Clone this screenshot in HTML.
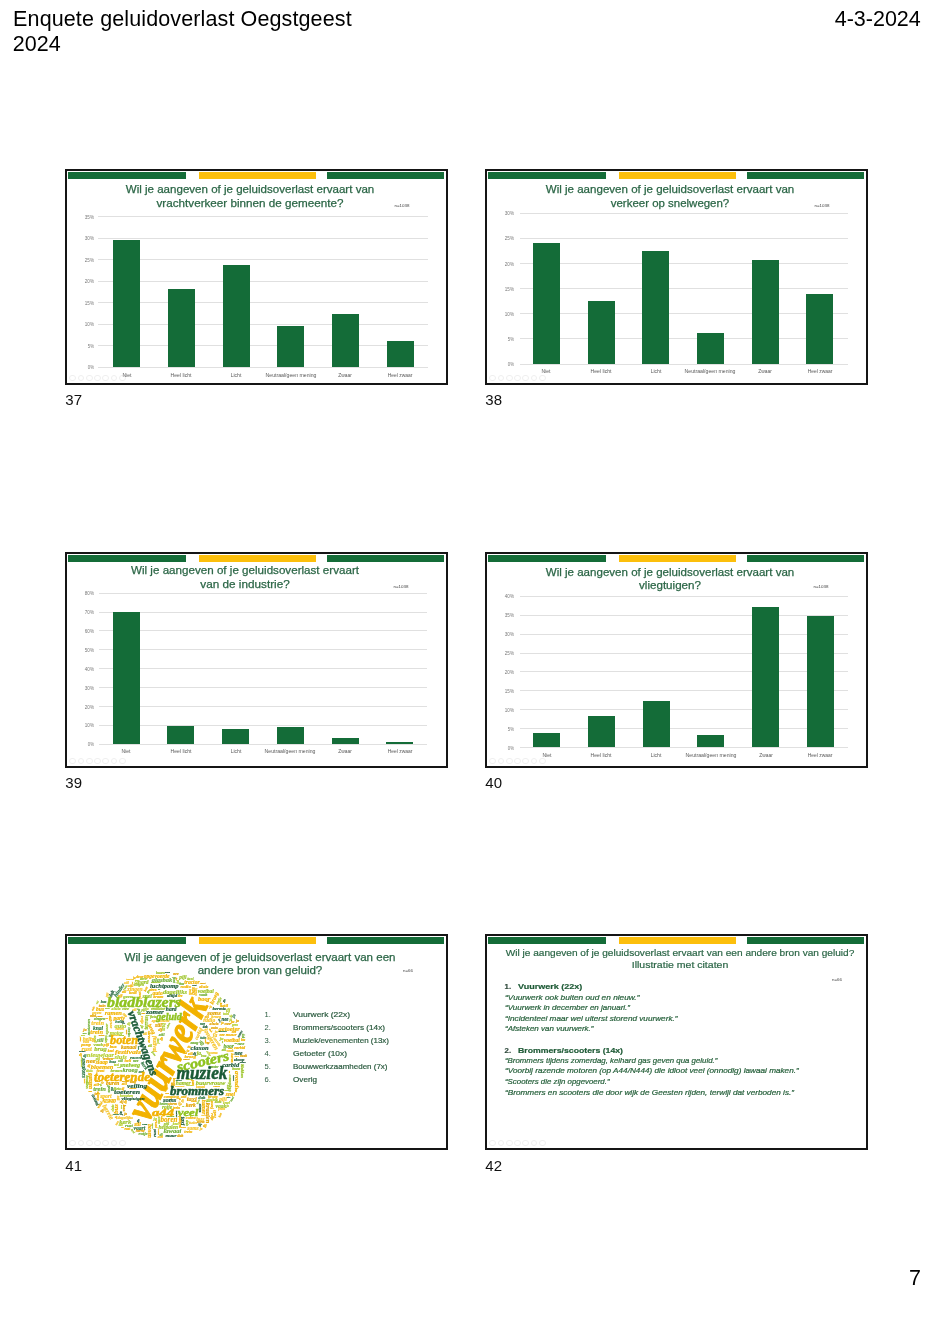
<!DOCTYPE html>
<html><head><meta charset="utf-8"><title>Enquete geluidoverlast Oegstgeest 2024</title><style>
html,body{margin:0;padding:0;background:#fff}
body{width:933px;height:1320px;position:relative;overflow:hidden;will-change:transform;font-family:"Liberation Sans",Arial,sans-serif}
.t{position:absolute;line-height:0;white-space:pre}
.tt{-webkit-text-stroke:0.25px currentColor}
.tq{-webkit-text-stroke:0.2px currentColor}
.tb{-webkit-text-stroke:0.5px currentColor}
.cl{position:absolute;left:0;top:0;width:383px;height:216px}
.cl .t{-webkit-text-stroke:0.18px currentColor}
.cl .tb{-webkit-text-stroke:0.5px currentColor}
.cl .tv{-webkit-text-stroke:1.1px currentColor}
.r{position:absolute}
.s{position:absolute;width:383px;height:216px}
</style></head><body>
<div class="t" style="left:13.10px;top:18.75px;font-size:21.5px;color:#000;letter-spacing:0.12px;">Enquete geluidoverlast Oegstgeest</div>
<div class="t" style="left:12.80px;top:44.45px;font-size:21.5px;color:#000;">2024</div>
<div class="t" style="left:920.80px;top:18.75px;font-size:21.5px;color:#000;transform:translateX(-100%) scaleX(1.0);transform-origin:100% 0;">4-3-2024</div>
<div class="t" style="left:921.00px;top:1278.15px;font-size:21.5px;color:#000;transform:translateX(-100%) scaleX(1.0);transform-origin:100% 0;">7</div>
<div class="t" style="left:65.30px;top:400.40px;font-size:15px;color:#111;">37</div>
<div class="t" style="left:485.30px;top:400.40px;font-size:15px;color:#111;">38</div>
<div class="t" style="left:65.30px;top:783.40px;font-size:15px;color:#111;">39</div>
<div class="t" style="left:485.30px;top:783.40px;font-size:15px;color:#111;">40</div>
<div class="t" style="left:65.30px;top:1166.40px;font-size:15px;color:#111;">41</div>
<div class="t" style="left:485.30px;top:1166.40px;font-size:15px;color:#111;">42</div>
<div class="s" style="left:65px;top:169px"><div class="r" style="left:0;top:0;width:383px;height:216px;box-sizing:border-box;border:2px solid #151515;background:#fff"></div><div class="r" style="left:3.00px;top:3.20px;width:118.00px;height:6.60px;background:#146c38;"></div><div class="r" style="left:133.50px;top:3.20px;width:117.50px;height:6.60px;background:#fcbf0c;"></div><div class="r" style="left:261.50px;top:3.20px;width:117.50px;height:6.60px;background:#146c38;"></div><div class="r" style="left:4.2px;top:205.6px;width:4.8px;height:4.8px;border:0.7px solid #efefef;border-radius:50%"></div><div class="r" style="left:12.5px;top:205.6px;width:4.8px;height:4.8px;border:0.7px solid #efefef;border-radius:50%"></div><div class="r" style="left:20.8px;top:205.6px;width:4.8px;height:4.8px;border:0.7px solid #efefef;border-radius:50%"></div><div class="r" style="left:29.1px;top:205.6px;width:4.8px;height:4.8px;border:0.7px solid #efefef;border-radius:50%"></div><div class="r" style="left:37.4px;top:205.6px;width:4.8px;height:4.8px;border:0.7px solid #efefef;border-radius:50%"></div><div class="r" style="left:45.7px;top:205.6px;width:4.8px;height:4.8px;border:0.7px solid #efefef;border-radius:50%"></div><div class="r" style="left:54.0px;top:205.6px;width:4.8px;height:4.8px;border:0.7px solid #efefef;border-radius:50%"></div><div class="t tt" style="left:185.40px;top:20.28px;font-size:11.3px;color:#2b6646;transform:translateX(-50%) scaleX(1.0226);transform-origin:50% 0;">Wil je aangeven of je geluidsoverlast ervaart van</div><div class="t tt" style="left:185.40px;top:33.78px;font-size:11.3px;color:#2b6646;transform:translateX(-50%) scaleX(1.0339);transform-origin:50% 0;">vrachtverkeer binnen de gemeente?</div><div class="t" style="left:336.50px;top:36.94px;font-size:4.2px;color:#444;transform:translateX(-50%) scaleX(1.0643);transform-origin:50% 0;">n=1038</div><div class="r" style="left:33.30px;top:197.80px;width:329.40px;height:0.80px;background:#e0e0e0;"></div><div class="t" style="left:29.20px;top:199.31px;font-size:4.6px;color:#7a7a7a;transform:translateX(-100%) scaleX(0.9336);transform-origin:100% 0;">0%</div><div class="r" style="left:33.30px;top:176.30px;width:329.40px;height:0.80px;background:#e0e0e0;"></div><div class="t" style="left:29.20px;top:177.81px;font-size:4.6px;color:#7a7a7a;transform:translateX(-100%) scaleX(0.9336);transform-origin:100% 0;">5%</div><div class="r" style="left:33.30px;top:154.80px;width:329.40px;height:0.80px;background:#e0e0e0;"></div><div class="t" style="left:29.20px;top:156.31px;font-size:4.6px;color:#7a7a7a;transform:translateX(-100%) scaleX(0.9997);transform-origin:100% 0;">10%</div><div class="r" style="left:33.30px;top:133.30px;width:329.40px;height:0.80px;background:#e0e0e0;"></div><div class="t" style="left:29.20px;top:134.81px;font-size:4.6px;color:#7a7a7a;transform:translateX(-100%) scaleX(0.9997);transform-origin:100% 0;">15%</div><div class="r" style="left:33.30px;top:111.80px;width:329.40px;height:0.80px;background:#e0e0e0;"></div><div class="t" style="left:29.20px;top:113.31px;font-size:4.6px;color:#7a7a7a;transform:translateX(-100%) scaleX(0.9997);transform-origin:100% 0;">20%</div><div class="r" style="left:33.30px;top:90.30px;width:329.40px;height:0.80px;background:#e0e0e0;"></div><div class="t" style="left:29.20px;top:91.81px;font-size:4.6px;color:#7a7a7a;transform:translateX(-100%) scaleX(0.9997);transform-origin:100% 0;">25%</div><div class="r" style="left:33.30px;top:68.80px;width:329.40px;height:0.80px;background:#e0e0e0;"></div><div class="t" style="left:29.20px;top:70.31px;font-size:4.6px;color:#7a7a7a;transform:translateX(-100%) scaleX(0.9997);transform-origin:100% 0;">30%</div><div class="r" style="left:33.30px;top:47.30px;width:329.40px;height:0.80px;background:#e0e0e0;"></div><div class="t" style="left:29.20px;top:48.81px;font-size:4.6px;color:#7a7a7a;transform:translateX(-100%) scaleX(0.9997);transform-origin:100% 0;">35%</div><div class="r" style="left:48.10px;top:71.35px;width:27.00px;height:126.85px;background:#146c38;"></div><div class="t" style="left:61.60px;top:207.01px;font-size:4.6px;color:#5a5a5a;transform:translateX(-50%) scaleX(1.1013);transform-origin:50% 0;">Niet</div><div class="r" style="left:102.80px;top:120.37px;width:27.00px;height:77.83px;background:#146c38;"></div><div class="t" style="left:116.30px;top:207.01px;font-size:4.6px;color:#5a5a5a;transform:translateX(-50%) scaleX(1.1107);transform-origin:50% 0;">Heel licht</div><div class="r" style="left:157.50px;top:96.29px;width:27.00px;height:101.91px;background:#146c38;"></div><div class="t" style="left:171.00px;top:207.01px;font-size:4.6px;color:#5a5a5a;transform:translateX(-50%) scaleX(1.101);transform-origin:50% 0;">Licht</div><div class="r" style="left:212.20px;top:156.92px;width:27.00px;height:41.28px;background:#146c38;"></div><div class="t" style="left:225.70px;top:207.01px;font-size:4.6px;color:#5a5a5a;transform:translateX(-50%) scaleX(1.1282);transform-origin:50% 0;">Neutraal/geen mening</div><div class="r" style="left:266.90px;top:145.31px;width:27.00px;height:52.89px;background:#146c38;"></div><div class="t" style="left:280.40px;top:207.01px;font-size:4.6px;color:#5a5a5a;transform:translateX(-50%) scaleX(1.0575);transform-origin:50% 0;">Zwaar</div><div class="r" style="left:321.60px;top:171.54px;width:27.00px;height:26.66px;background:#146c38;"></div><div class="t" style="left:335.10px;top:207.01px;font-size:4.6px;color:#5a5a5a;transform:translateX(-50%) scaleX(1.0746);transform-origin:50% 0;">Heel zwaar</div></div>
<div class="s" style="left:485px;top:169px"><div class="r" style="left:0;top:0;width:383px;height:216px;box-sizing:border-box;border:2px solid #151515;background:#fff"></div><div class="r" style="left:3.00px;top:3.20px;width:118.00px;height:6.60px;background:#146c38;"></div><div class="r" style="left:133.50px;top:3.20px;width:117.50px;height:6.60px;background:#fcbf0c;"></div><div class="r" style="left:261.50px;top:3.20px;width:117.50px;height:6.60px;background:#146c38;"></div><div class="r" style="left:4.2px;top:205.6px;width:4.8px;height:4.8px;border:0.7px solid #efefef;border-radius:50%"></div><div class="r" style="left:12.5px;top:205.6px;width:4.8px;height:4.8px;border:0.7px solid #efefef;border-radius:50%"></div><div class="r" style="left:20.8px;top:205.6px;width:4.8px;height:4.8px;border:0.7px solid #efefef;border-radius:50%"></div><div class="r" style="left:29.1px;top:205.6px;width:4.8px;height:4.8px;border:0.7px solid #efefef;border-radius:50%"></div><div class="r" style="left:37.4px;top:205.6px;width:4.8px;height:4.8px;border:0.7px solid #efefef;border-radius:50%"></div><div class="r" style="left:45.7px;top:205.6px;width:4.8px;height:4.8px;border:0.7px solid #efefef;border-radius:50%"></div><div class="r" style="left:54.0px;top:205.6px;width:4.8px;height:4.8px;border:0.7px solid #efefef;border-radius:50%"></div><div class="t tt" style="left:185.20px;top:20.28px;font-size:11.3px;color:#2b6646;transform:translateX(-50%) scaleX(1.0226);transform-origin:50% 0;">Wil je aangeven of je geluidsoverlast ervaart van</div><div class="t tt" style="left:185.20px;top:33.78px;font-size:11.3px;color:#2b6646;transform:translateX(-50%) scaleX(1.0144);transform-origin:50% 0;">verkeer op snelwegen?</div><div class="t" style="left:336.50px;top:36.94px;font-size:4.2px;color:#444;transform:translateX(-50%) scaleX(1.0643);transform-origin:50% 0;">n=1038</div><div class="r" style="left:34.60px;top:194.50px;width:328.30px;height:0.80px;background:#e0e0e0;"></div><div class="t" style="left:29.20px;top:196.01px;font-size:4.6px;color:#7a7a7a;transform:translateX(-100%) scaleX(0.9336);transform-origin:100% 0;">0%</div><div class="r" style="left:34.60px;top:169.38px;width:328.30px;height:0.80px;background:#e0e0e0;"></div><div class="t" style="left:29.20px;top:170.89px;font-size:4.6px;color:#7a7a7a;transform:translateX(-100%) scaleX(0.9336);transform-origin:100% 0;">5%</div><div class="r" style="left:34.60px;top:144.27px;width:328.30px;height:0.80px;background:#e0e0e0;"></div><div class="t" style="left:29.20px;top:145.77px;font-size:4.6px;color:#7a7a7a;transform:translateX(-100%) scaleX(0.9997);transform-origin:100% 0;">10%</div><div class="r" style="left:34.60px;top:119.15px;width:328.30px;height:0.80px;background:#e0e0e0;"></div><div class="t" style="left:29.20px;top:120.66px;font-size:4.6px;color:#7a7a7a;transform:translateX(-100%) scaleX(0.9997);transform-origin:100% 0;">15%</div><div class="r" style="left:34.60px;top:94.03px;width:328.30px;height:0.80px;background:#e0e0e0;"></div><div class="t" style="left:29.20px;top:95.54px;font-size:4.6px;color:#7a7a7a;transform:translateX(-100%) scaleX(0.9997);transform-origin:100% 0;">20%</div><div class="r" style="left:34.60px;top:68.92px;width:328.30px;height:0.80px;background:#e0e0e0;"></div><div class="t" style="left:29.20px;top:70.42px;font-size:4.6px;color:#7a7a7a;transform:translateX(-100%) scaleX(0.9997);transform-origin:100% 0;">25%</div><div class="r" style="left:34.60px;top:43.80px;width:328.30px;height:0.80px;background:#e0e0e0;"></div><div class="t" style="left:29.20px;top:45.31px;font-size:4.6px;color:#7a7a7a;transform:translateX(-100%) scaleX(0.9997);transform-origin:100% 0;">30%</div><div class="r" style="left:47.80px;top:73.84px;width:27.00px;height:121.06px;background:#146c38;"></div><div class="t" style="left:61.30px;top:203.31px;font-size:4.6px;color:#5a5a5a;transform:translateX(-50%) scaleX(1.1013);transform-origin:50% 0;">Niet</div><div class="r" style="left:102.50px;top:131.61px;width:27.00px;height:63.29px;background:#146c38;"></div><div class="t" style="left:116.00px;top:203.31px;font-size:4.6px;color:#5a5a5a;transform:translateX(-50%) scaleX(1.1107);transform-origin:50% 0;">Heel licht</div><div class="r" style="left:157.20px;top:81.88px;width:27.00px;height:113.02px;background:#146c38;"></div><div class="t" style="left:170.70px;top:203.31px;font-size:4.6px;color:#5a5a5a;transform:translateX(-50%) scaleX(1.101);transform-origin:50% 0;">Licht</div><div class="r" style="left:211.90px;top:163.76px;width:27.00px;height:31.14px;background:#146c38;"></div><div class="t" style="left:225.40px;top:203.31px;font-size:4.6px;color:#5a5a5a;transform:translateX(-50%) scaleX(1.1282);transform-origin:50% 0;">Neutraal/geen mening</div><div class="r" style="left:266.60px;top:90.92px;width:27.00px;height:103.98px;background:#146c38;"></div><div class="t" style="left:280.10px;top:203.31px;font-size:4.6px;color:#5a5a5a;transform:translateX(-50%) scaleX(1.0575);transform-origin:50% 0;">Zwaar</div><div class="r" style="left:321.30px;top:124.57px;width:27.00px;height:70.33px;background:#146c38;"></div><div class="t" style="left:334.80px;top:203.31px;font-size:4.6px;color:#5a5a5a;transform:translateX(-50%) scaleX(1.0746);transform-origin:50% 0;">Heel zwaar</div></div>
<div class="s" style="left:65px;top:552px"><div class="r" style="left:0;top:0;width:383px;height:216px;box-sizing:border-box;border:2px solid #151515;background:#fff"></div><div class="r" style="left:3.00px;top:3.20px;width:118.00px;height:6.60px;background:#146c38;"></div><div class="r" style="left:133.50px;top:3.20px;width:117.50px;height:6.60px;background:#fcbf0c;"></div><div class="r" style="left:261.50px;top:3.20px;width:117.50px;height:6.60px;background:#146c38;"></div><div class="r" style="left:4.2px;top:205.6px;width:4.8px;height:4.8px;border:0.7px solid #efefef;border-radius:50%"></div><div class="r" style="left:12.5px;top:205.6px;width:4.8px;height:4.8px;border:0.7px solid #efefef;border-radius:50%"></div><div class="r" style="left:20.8px;top:205.6px;width:4.8px;height:4.8px;border:0.7px solid #efefef;border-radius:50%"></div><div class="r" style="left:29.1px;top:205.6px;width:4.8px;height:4.8px;border:0.7px solid #efefef;border-radius:50%"></div><div class="r" style="left:37.4px;top:205.6px;width:4.8px;height:4.8px;border:0.7px solid #efefef;border-radius:50%"></div><div class="r" style="left:45.7px;top:205.6px;width:4.8px;height:4.8px;border:0.7px solid #efefef;border-radius:50%"></div><div class="r" style="left:54.0px;top:205.6px;width:4.8px;height:4.8px;border:0.7px solid #efefef;border-radius:50%"></div><div class="t tt" style="left:180.20px;top:18.28px;font-size:11.3px;color:#2b6646;transform:translateX(-50%) scaleX(1.0285);transform-origin:50% 0;">Wil je aangeven of je geluidsoverlast ervaart</div><div class="t tt" style="left:180.20px;top:31.78px;font-size:11.3px;color:#2b6646;transform:translateX(-50%) scaleX(1.0401);transform-origin:50% 0;">van de industrie?</div><div class="t" style="left:336.30px;top:35.34px;font-size:4.2px;color:#444;transform:translateX(-50%) scaleX(1.0643);transform-origin:50% 0;">n=1038</div><div class="r" style="left:34.20px;top:191.80px;width:327.80px;height:0.80px;background:#e0e0e0;"></div><div class="t" style="left:29.20px;top:193.31px;font-size:4.6px;color:#7a7a7a;transform:translateX(-100%) scaleX(0.9336);transform-origin:100% 0;">0%</div><div class="r" style="left:34.20px;top:172.91px;width:327.80px;height:0.80px;background:#e0e0e0;"></div><div class="t" style="left:29.20px;top:174.42px;font-size:4.6px;color:#7a7a7a;transform:translateX(-100%) scaleX(0.9997);transform-origin:100% 0;">10%</div><div class="r" style="left:34.20px;top:154.02px;width:327.80px;height:0.80px;background:#e0e0e0;"></div><div class="t" style="left:29.20px;top:155.53px;font-size:4.6px;color:#7a7a7a;transform:translateX(-100%) scaleX(0.9997);transform-origin:100% 0;">20%</div><div class="r" style="left:34.20px;top:135.14px;width:327.80px;height:0.80px;background:#e0e0e0;"></div><div class="t" style="left:29.20px;top:136.64px;font-size:4.6px;color:#7a7a7a;transform:translateX(-100%) scaleX(0.9997);transform-origin:100% 0;">30%</div><div class="r" style="left:34.20px;top:116.25px;width:327.80px;height:0.80px;background:#e0e0e0;"></div><div class="t" style="left:29.20px;top:117.76px;font-size:4.6px;color:#7a7a7a;transform:translateX(-100%) scaleX(0.9997);transform-origin:100% 0;">40%</div><div class="r" style="left:34.20px;top:97.36px;width:327.80px;height:0.80px;background:#e0e0e0;"></div><div class="t" style="left:29.20px;top:98.87px;font-size:4.6px;color:#7a7a7a;transform:translateX(-100%) scaleX(0.9997);transform-origin:100% 0;">50%</div><div class="r" style="left:34.20px;top:78.47px;width:327.80px;height:0.80px;background:#e0e0e0;"></div><div class="t" style="left:29.20px;top:79.98px;font-size:4.6px;color:#7a7a7a;transform:translateX(-100%) scaleX(0.9997);transform-origin:100% 0;">60%</div><div class="r" style="left:34.20px;top:59.59px;width:327.80px;height:0.80px;background:#e0e0e0;"></div><div class="t" style="left:29.20px;top:61.09px;font-size:4.6px;color:#7a7a7a;transform:translateX(-100%) scaleX(0.9997);transform-origin:100% 0;">70%</div><div class="r" style="left:34.20px;top:40.70px;width:327.80px;height:0.80px;background:#e0e0e0;"></div><div class="t" style="left:29.20px;top:42.21px;font-size:4.6px;color:#7a7a7a;transform:translateX(-100%) scaleX(0.9997);transform-origin:100% 0;">80%</div><div class="r" style="left:47.70px;top:59.99px;width:27.00px;height:132.21px;background:#146c38;"></div><div class="t" style="left:61.20px;top:200.01px;font-size:4.6px;color:#5a5a5a;transform:translateX(-50%) scaleX(1.1013);transform-origin:50% 0;">Niet</div><div class="r" style="left:102.40px;top:174.07px;width:27.00px;height:18.13px;background:#146c38;"></div><div class="t" style="left:115.90px;top:200.01px;font-size:4.6px;color:#5a5a5a;transform:translateX(-50%) scaleX(1.1107);transform-origin:50% 0;">Heel licht</div><div class="r" style="left:157.10px;top:177.09px;width:27.00px;height:15.11px;background:#146c38;"></div><div class="t" style="left:170.60px;top:200.01px;font-size:4.6px;color:#5a5a5a;transform:translateX(-50%) scaleX(1.101);transform-origin:50% 0;">Licht</div><div class="r" style="left:211.80px;top:175.39px;width:27.00px;height:16.81px;background:#146c38;"></div><div class="t" style="left:225.30px;top:200.01px;font-size:4.6px;color:#5a5a5a;transform:translateX(-50%) scaleX(1.1282);transform-origin:50% 0;">Neutraal/geen mening</div><div class="r" style="left:266.50px;top:185.78px;width:27.00px;height:6.42px;background:#146c38;"></div><div class="t" style="left:280.00px;top:200.01px;font-size:4.6px;color:#5a5a5a;transform:translateX(-50%) scaleX(1.0575);transform-origin:50% 0;">Zwaar</div><div class="r" style="left:321.20px;top:190.31px;width:27.00px;height:1.89px;background:#146c38;"></div><div class="t" style="left:334.70px;top:200.01px;font-size:4.6px;color:#5a5a5a;transform:translateX(-50%) scaleX(1.0746);transform-origin:50% 0;">Heel zwaar</div></div>
<div class="s" style="left:485px;top:552px"><div class="r" style="left:0;top:0;width:383px;height:216px;box-sizing:border-box;border:2px solid #151515;background:#fff"></div><div class="r" style="left:3.00px;top:3.20px;width:118.00px;height:6.60px;background:#146c38;"></div><div class="r" style="left:133.50px;top:3.20px;width:117.50px;height:6.60px;background:#fcbf0c;"></div><div class="r" style="left:261.50px;top:3.20px;width:117.50px;height:6.60px;background:#146c38;"></div><div class="r" style="left:4.2px;top:205.6px;width:4.8px;height:4.8px;border:0.7px solid #efefef;border-radius:50%"></div><div class="r" style="left:12.5px;top:205.6px;width:4.8px;height:4.8px;border:0.7px solid #efefef;border-radius:50%"></div><div class="r" style="left:20.8px;top:205.6px;width:4.8px;height:4.8px;border:0.7px solid #efefef;border-radius:50%"></div><div class="r" style="left:29.1px;top:205.6px;width:4.8px;height:4.8px;border:0.7px solid #efefef;border-radius:50%"></div><div class="r" style="left:37.4px;top:205.6px;width:4.8px;height:4.8px;border:0.7px solid #efefef;border-radius:50%"></div><div class="r" style="left:45.7px;top:205.6px;width:4.8px;height:4.8px;border:0.7px solid #efefef;border-radius:50%"></div><div class="r" style="left:54.0px;top:205.6px;width:4.8px;height:4.8px;border:0.7px solid #efefef;border-radius:50%"></div><div class="t tt" style="left:185.20px;top:19.88px;font-size:11.3px;color:#2b6646;transform:translateX(-50%) scaleX(1.0226);transform-origin:50% 0;">Wil je aangeven of je geluidsoverlast ervaart van</div><div class="t tt" style="left:185.20px;top:32.78px;font-size:11.3px;color:#2b6646;transform:translateX(-50%) scaleX(1.0282);transform-origin:50% 0;">vliegtuigen?</div><div class="t" style="left:336.30px;top:35.34px;font-size:4.2px;color:#444;transform:translateX(-50%) scaleX(1.0643);transform-origin:50% 0;">n=1038</div><div class="r" style="left:34.90px;top:195.00px;width:328.00px;height:0.80px;background:#e0e0e0;"></div><div class="t" style="left:29.20px;top:196.51px;font-size:4.6px;color:#7a7a7a;transform:translateX(-100%) scaleX(0.9336);transform-origin:100% 0;">0%</div><div class="r" style="left:34.90px;top:176.11px;width:328.00px;height:0.80px;background:#e0e0e0;"></div><div class="t" style="left:29.20px;top:177.62px;font-size:4.6px;color:#7a7a7a;transform:translateX(-100%) scaleX(0.9336);transform-origin:100% 0;">5%</div><div class="r" style="left:34.90px;top:157.22px;width:328.00px;height:0.80px;background:#e0e0e0;"></div><div class="t" style="left:29.20px;top:158.73px;font-size:4.6px;color:#7a7a7a;transform:translateX(-100%) scaleX(0.9997);transform-origin:100% 0;">10%</div><div class="r" style="left:34.90px;top:138.34px;width:328.00px;height:0.80px;background:#e0e0e0;"></div><div class="t" style="left:29.20px;top:139.84px;font-size:4.6px;color:#7a7a7a;transform:translateX(-100%) scaleX(0.9997);transform-origin:100% 0;">15%</div><div class="r" style="left:34.90px;top:119.45px;width:328.00px;height:0.80px;background:#e0e0e0;"></div><div class="t" style="left:29.20px;top:120.96px;font-size:4.6px;color:#7a7a7a;transform:translateX(-100%) scaleX(0.9997);transform-origin:100% 0;">20%</div><div class="r" style="left:34.90px;top:100.56px;width:328.00px;height:0.80px;background:#e0e0e0;"></div><div class="t" style="left:29.20px;top:102.07px;font-size:4.6px;color:#7a7a7a;transform:translateX(-100%) scaleX(0.9997);transform-origin:100% 0;">25%</div><div class="r" style="left:34.90px;top:81.67px;width:328.00px;height:0.80px;background:#e0e0e0;"></div><div class="t" style="left:29.20px;top:83.18px;font-size:4.6px;color:#7a7a7a;transform:translateX(-100%) scaleX(0.9997);transform-origin:100% 0;">30%</div><div class="r" style="left:34.90px;top:62.79px;width:328.00px;height:0.80px;background:#e0e0e0;"></div><div class="t" style="left:29.20px;top:64.29px;font-size:4.6px;color:#7a7a7a;transform:translateX(-100%) scaleX(0.9997);transform-origin:100% 0;">35%</div><div class="r" style="left:34.90px;top:43.90px;width:328.00px;height:0.80px;background:#e0e0e0;"></div><div class="t" style="left:29.20px;top:45.41px;font-size:4.6px;color:#7a7a7a;transform:translateX(-100%) scaleX(0.9997);transform-origin:100% 0;">40%</div><div class="r" style="left:48.20px;top:180.67px;width:27.00px;height:14.73px;background:#146c38;"></div><div class="t" style="left:61.70px;top:204.21px;font-size:4.6px;color:#5a5a5a;transform:translateX(-50%) scaleX(1.1013);transform-origin:50% 0;">Niet</div><div class="r" style="left:102.90px;top:163.67px;width:27.00px;height:31.73px;background:#146c38;"></div><div class="t" style="left:116.40px;top:204.21px;font-size:4.6px;color:#5a5a5a;transform:translateX(-50%) scaleX(1.1107);transform-origin:50% 0;">Heel licht</div><div class="r" style="left:157.60px;top:149.31px;width:27.00px;height:46.09px;background:#146c38;"></div><div class="t" style="left:171.10px;top:204.21px;font-size:4.6px;color:#5a5a5a;transform:translateX(-50%) scaleX(1.101);transform-origin:50% 0;">Licht</div><div class="r" style="left:212.30px;top:182.93px;width:27.00px;height:12.47px;background:#146c38;"></div><div class="t" style="left:225.80px;top:204.21px;font-size:4.6px;color:#5a5a5a;transform:translateX(-50%) scaleX(1.1282);transform-origin:50% 0;">Neutraal/geen mening</div><div class="r" style="left:267.00px;top:55.25px;width:27.00px;height:140.15px;background:#146c38;"></div><div class="t" style="left:280.50px;top:204.21px;font-size:4.6px;color:#5a5a5a;transform:translateX(-50%) scaleX(1.0575);transform-origin:50% 0;">Zwaar</div><div class="r" style="left:321.70px;top:63.57px;width:27.00px;height:131.83px;background:#146c38;"></div><div class="t" style="left:335.20px;top:204.21px;font-size:4.6px;color:#5a5a5a;transform:translateX(-50%) scaleX(1.0746);transform-origin:50% 0;">Heel zwaar</div></div>
<div class="s" style="left:65px;top:934px"><div class="r" style="left:0;top:0;width:383px;height:216px;box-sizing:border-box;border:2px solid #151515;background:#fff"></div><div class="r" style="left:3.00px;top:3.20px;width:118.00px;height:6.60px;background:#146c38;"></div><div class="r" style="left:133.50px;top:3.20px;width:117.50px;height:6.60px;background:#fcbf0c;"></div><div class="r" style="left:261.50px;top:3.20px;width:117.50px;height:6.60px;background:#146c38;"></div><div class="r" style="left:4.2px;top:205.6px;width:4.8px;height:4.8px;border:0.7px solid #efefef;border-radius:50%"></div><div class="r" style="left:12.5px;top:205.6px;width:4.8px;height:4.8px;border:0.7px solid #efefef;border-radius:50%"></div><div class="r" style="left:20.8px;top:205.6px;width:4.8px;height:4.8px;border:0.7px solid #efefef;border-radius:50%"></div><div class="r" style="left:29.1px;top:205.6px;width:4.8px;height:4.8px;border:0.7px solid #efefef;border-radius:50%"></div><div class="r" style="left:37.4px;top:205.6px;width:4.8px;height:4.8px;border:0.7px solid #efefef;border-radius:50%"></div><div class="r" style="left:45.7px;top:205.6px;width:4.8px;height:4.8px;border:0.7px solid #efefef;border-radius:50%"></div><div class="r" style="left:54.0px;top:205.6px;width:4.8px;height:4.8px;border:0.7px solid #efefef;border-radius:50%"></div><div class="t tt" style="left:195.40px;top:22.78px;font-size:11.3px;color:#2b6646;transform:translateX(-50%) scaleX(1.0226);transform-origin:50% 0;">Wil je aangeven of je geluidsoverlast ervaart van een</div><div class="t tt" style="left:195.40px;top:35.98px;font-size:11.3px;color:#2b6646;transform:translateX(-50%) scaleX(1.0225);transform-origin:50% 0;">andere bron van geluid?</div><div class="t" style="left:342.90px;top:37.44px;font-size:4.2px;color:#444;transform:translateX(-50%) scaleX(1.0596);transform-origin:50% 0;">n=66</div><div class="t" style="left:199.60px;top:81.37px;font-size:7.6px;color:#2a5a3e;">1.</div><div class="t tq" style="left:227.90px;top:81.37px;font-size:7.6px;color:#2a5a3e;transform:scaleX(1.1132);transform-origin:0 0;">Vuurwerk (22x)</div><div class="t" style="left:199.60px;top:94.27px;font-size:7.6px;color:#2a5a3e;">2.</div><div class="t tq" style="left:227.90px;top:94.27px;font-size:7.6px;color:#2a5a3e;transform:scaleX(1.0792);transform-origin:0 0;">Brommers/scooters (14x)</div><div class="t" style="left:199.60px;top:107.17px;font-size:7.6px;color:#2a5a3e;">3.</div><div class="t tq" style="left:227.90px;top:107.17px;font-size:7.6px;color:#2a5a3e;transform:scaleX(1.0481);transform-origin:0 0;">Muziek/evenementen (13x)</div><div class="t" style="left:199.60px;top:120.07px;font-size:7.6px;color:#2a5a3e;">4.</div><div class="t tq" style="left:227.90px;top:120.07px;font-size:7.6px;color:#2a5a3e;transform:scaleX(1.1027);transform-origin:0 0;">Getoeter (10x)</div><div class="t" style="left:199.60px;top:132.97px;font-size:7.6px;color:#2a5a3e;">5.</div><div class="t tq" style="left:227.90px;top:132.97px;font-size:7.6px;color:#2a5a3e;transform:scaleX(1.0511);transform-origin:0 0;">Bouwwerkzaamheden (7x)</div><div class="t" style="left:199.60px;top:145.87px;font-size:7.6px;color:#2a5a3e;">6.</div><div class="t tq" style="left:227.90px;top:145.87px;font-size:7.6px;color:#2a5a3e;transform:scaleX(1.0726);transform-origin:0 0;">Overig</div><div class="cl"><div class="t" style="left:43.3px;top:178.0px;font-size:6.5px;color:#f6c52a;font-family:'Liberation Serif', serif;font-style:italic;font-weight:700;transform:translateX(-50%) rotate(60deg);transform-origin:50% 0">herrie</div><div class="t" style="left:134.6px;top:113.8px;font-size:6.5px;color:#1e5c38;font-family:'Liberation Serif', serif;font-style:italic;font-weight:700;transform:translateX(-50%) rotate(0deg);transform-origin:50% 0">claxon</div><div class="t" style="left:60.2px;top:187.7px;font-size:6.5px;color:#9cc42a;font-family:'Liberation Serif', serif;font-style:italic;font-weight:700;transform:translateX(-50%) rotate(0deg);transform-origin:50% 0">kerk</div><div class="t" style="left:145.8px;top:105.3px;font-size:6.5px;color:#f6c52a;font-family:'Liberation Serif', serif;font-style:italic;font-weight:700;transform:translateX(-50%) rotate(60deg);transform-origin:50% 0">jongeren</div><div class="t" style="left:97.0px;top:45.7px;font-size:6.5px;color:#6fae35;font-family:'Liberation Serif', serif;font-style:italic;font-weight:700;transform:translateX(-50%) rotate(0deg);transform-origin:50% 0">glasbak</div><div class="t" style="left:25.8px;top:126.5px;font-size:6.5px;color:#e2a300;font-family:'Liberation Serif', serif;font-style:italic;font-weight:700;transform:translateX(-50%) rotate(0deg);transform-origin:50% 0">nee</div><div class="t" style="left:35.5px;top:115.2px;font-size:6.5px;color:#9cc42a;font-family:'Liberation Serif', serif;font-style:italic;font-weight:700;transform:translateX(-50%) rotate(0deg);transform-origin:50% 0">brug</div><div class="t" style="left:51.4px;top:174.8px;font-size:6.5px;color:#f2b400;font-family:'Liberation Serif', serif;font-style:italic;font-weight:700;transform:translateX(-50%) rotate(-90deg);transform-origin:50% 0">bus</div><div class="t" style="left:110.0px;top:57.9px;font-size:6.5px;color:#9cc42a;font-family:'Liberation Serif', serif;font-style:italic;font-weight:700;transform:translateX(-50%) rotate(0deg);transform-origin:50% 0">dagelijks</div><div class="t" style="left:48.3px;top:79.2px;font-size:6.5px;color:#f2b400;font-family:'Liberation Serif', serif;font-style:italic;font-weight:700;transform:translateX(-50%) rotate(0deg);transform-origin:50% 0">ramen</div><div class="t" style="left:126.7px;top:164.7px;font-size:6.5px;color:#e2a300;font-family:'Liberation Serif', serif;font-style:italic;font-weight:700;transform:translateX(-50%) rotate(0deg);transform-origin:50% 0">taxi</div><div class="t" style="left:104.6px;top:166.3px;font-size:6.5px;color:#1e5c38;font-family:'Liberation Serif', serif;font-style:italic;font-weight:700;transform:translateX(-50%) rotate(0deg);transform-origin:50% 0">soms</div><div class="t" style="left:165.7px;top:131.4px;font-size:6.5px;color:#1e5c38;font-family:'Liberation Serif', serif;font-style:italic;font-weight:700;transform:translateX(-50%) rotate(0deg);transform-origin:50% 0">carbid</div><div class="t" style="left:31.7px;top:98.2px;font-size:6.5px;color:#f2b400;font-family:'Liberation Serif', serif;font-style:italic;font-weight:700;transform:translateX(-50%) rotate(0deg);transform-origin:50% 0">trein</div><div class="t" style="left:107.4px;top:197.1px;font-size:6.5px;color:#6fae35;font-family:'Liberation Serif', serif;font-style:italic;font-weight:700;transform:translateX(-50%) rotate(0deg);transform-origin:50% 0">lawaai</div><div class="t" style="left:171.7px;top:144.6px;font-size:6.5px;color:#f2b400;font-family:'Liberation Serif', serif;font-style:italic;font-weight:700;transform:translateX(-50%) rotate(90deg);transform-origin:50% 0">avond</div><div class="t" style="left:32.7px;top:88.9px;font-size:6.5px;color:#f6c52a;font-family:'Liberation Serif', serif;font-style:italic;font-weight:700;transform:translateX(-50%) rotate(0deg);transform-origin:50% 0">trein</div><div class="t" style="left:149.0px;top:78.7px;font-size:6.5px;color:#e2a300;font-family:'Liberation Serif', serif;font-style:italic;font-weight:700;transform:translateX(-50%) rotate(0deg);transform-origin:50% 0">soms</div><div class="t" style="left:164.2px;top:94.6px;font-size:6.5px;color:#f2b400;font-family:'Liberation Serif', serif;font-style:italic;font-weight:700;transform:translateX(-50%) rotate(0deg);transform-origin:50% 0">getoeter</div><div class="t" style="left:145.5px;top:149.1px;font-size:6.5px;color:#9cc42a;font-family:'Liberation Serif', serif;font-style:italic;font-weight:700;transform:translateX(-50%) rotate(0deg);transform-origin:50% 0">buurvrouw</div><div class="t" style="left:55.7px;top:123.1px;font-size:6.5px;color:#b6cf33;font-family:'Liberation Serif', serif;font-style:italic;font-weight:700;transform:translateX(-50%) rotate(0deg);transform-origin:50% 0">sluis</div><div class="t" style="left:143.4px;top:179.3px;font-size:6.5px;color:#e2a300;font-family:'Liberation Serif', serif;font-style:italic;font-weight:700;transform:translateX(-50%) rotate(90deg);transform-origin:50% 0">kraaien</div><div class="t" style="left:139.1px;top:64.7px;font-size:6.5px;color:#f2b400;font-family:'Liberation Serif', serif;font-style:italic;font-weight:700;transform:translateX(-50%) rotate(0deg);transform-origin:50% 0">boor</div><div class="t" style="left:37.1px;top:132.7px;font-size:6.5px;color:#f2b400;font-family:'Liberation Serif', serif;font-style:italic;font-weight:700;transform:translateX(-50%) rotate(0deg);transform-origin:50% 0">bloemen</div><div class="t" style="left:35.4px;top:120.7px;font-size:6.5px;color:#b6cf33;font-family:'Liberation Serif', serif;font-style:italic;font-weight:700;transform:translateX(-50%) rotate(0deg);transform-origin:50% 0">nieuwjaar</div><div class="t" style="left:99.3px;top:52.0px;font-size:6.5px;color:#1e5c38;font-family:'Liberation Serif', serif;font-style:italic;font-weight:700;transform:translateX(-50%) rotate(0deg);transform-origin:50% 0">luchtpomp</div><div class="t" style="left:55.4px;top:91.6px;font-size:6.5px;color:#b6cf33;font-family:'Liberation Serif', serif;font-style:italic;font-weight:700;transform:translateX(-50%) rotate(0deg);transform-origin:50% 0">auto</div><div class="t" style="left:65.1px;top:135.9px;font-size:6.5px;color:#6fae35;font-family:'Liberation Serif', serif;font-style:italic;font-weight:700;transform:translateX(-50%) rotate(0deg);transform-origin:50% 0">kroeg</div><div class="t" style="left:34.5px;top:155.1px;font-size:6.5px;color:#6fae35;font-family:'Liberation Serif', serif;font-style:italic;font-weight:700;transform:translateX(-50%) rotate(0deg);transform-origin:50% 0">trein</div><div class="t" style="left:21.7px;top:114.7px;font-size:6.5px;color:#f6c52a;font-family:'Liberation Serif', serif;font-style:italic;font-weight:700;transform:translateX(-50%) rotate(0deg);transform-origin:50% 0">rust</div><div class="t" style="left:89.8px;top:110.2px;font-size:5.5px;color:#f6c52a;font-family:'Liberation Serif', serif;font-style:italic;font-weight:700;transform:translateX(-50%) rotate(90deg);transform-origin:50% 0">festival</div><div class="t" style="left:54.2px;top:84.3px;font-size:5.5px;color:#f2b400;font-family:'Liberation Serif', serif;font-style:italic;font-weight:700;transform:translateX(-50%) rotate(0deg);transform-origin:50% 0">party</div><div class="t" style="left:87.4px;top:95.1px;font-size:5.5px;color:#f2b400;font-family:'Liberation Serif', serif;font-style:italic;font-weight:700;transform:translateX(-50%) rotate(60deg);transform-origin:50% 0">brug</div><div class="t" style="left:128.0px;top:194.1px;font-size:5.5px;color:#f6c52a;font-family:'Liberation Serif', serif;font-style:italic;font-weight:700;transform:translateX(-50%) rotate(0deg);transform-origin:50% 0">soms</div><div class="t" style="left:70.5px;top:47.7px;font-size:5.5px;color:#b6cf33;font-family:'Liberation Serif', serif;font-style:italic;font-weight:700;transform:translateX(-50%) rotate(-90deg);transform-origin:50% 0">ja</div><div class="t" style="left:22.0px;top:105.1px;font-size:5.5px;color:#f6c52a;font-family:'Liberation Serif', serif;font-style:italic;font-weight:700;transform:translateX(-50%) rotate(0deg);transform-origin:50% 0">heli</div><div class="t" style="left:63.8px;top:113.2px;font-size:5.5px;color:#e2a300;font-family:'Liberation Serif', serif;font-style:italic;font-weight:700;transform:translateX(-50%) rotate(0deg);transform-origin:50% 0">kanaal</div><div class="t" style="left:99.4px;top:93.4px;font-size:5.5px;color:#b6cf33;font-family:'Liberation Serif', serif;font-style:italic;font-weight:700;transform:translateX(-50%) rotate(90deg);transform-origin:50% 0">bus</div><div class="t" style="left:102.1px;top:173.3px;font-size:5.5px;color:#9cc42a;font-family:'Liberation Serif', serif;font-style:italic;font-weight:700;transform:translateX(-50%) rotate(0deg);transform-origin:50% 0">rotje</div><div class="t" style="left:84.7px;top:196.9px;font-size:5.5px;color:#f2b400;font-family:'Liberation Serif', serif;font-style:italic;font-weight:700;transform:translateX(-50%) rotate(90deg);transform-origin:50% 0">boxen</div><div class="t" style="left:144.2px;top:85.9px;font-size:5.5px;color:#f6c52a;font-family:'Liberation Serif', serif;font-style:italic;font-weight:700;transform:translateX(-50%) rotate(0deg);transform-origin:50% 0">radio</div><div class="t" style="left:155.9px;top:172.0px;font-size:5.5px;color:#9cc42a;font-family:'Liberation Serif', serif;font-style:italic;font-weight:700;transform:translateX(-50%) rotate(0deg);transform-origin:50% 0">vaak</div><div class="t" style="left:133.9px;top:118.7px;font-size:5.5px;color:#9cc42a;font-family:'Liberation Serif', serif;font-style:italic;font-weight:700;transform:translateX(-50%) rotate(0deg);transform-origin:50% 0">ja</div><div class="t" style="left:163.7px;top:112.0px;font-size:5.5px;color:#6fae35;font-family:'Liberation Serif', serif;font-style:italic;font-weight:700;transform:translateX(-50%) rotate(0deg);transform-origin:50% 0">boor</div><div class="t" style="left:149.1px;top:63.6px;font-size:5.5px;color:#f2b400;font-family:'Liberation Serif', serif;font-style:italic;font-weight:700;transform:translateX(-50%) rotate(-65deg);transform-origin:50% 0">kroeg</div><div class="t" style="left:173.4px;top:119.2px;font-size:5.5px;color:#1e5c38;font-family:'Liberation Serif', serif;font-style:italic;font-weight:700;transform:translateX(-50%) rotate(0deg);transform-origin:50% 0">nee</div><div class="t" style="left:118.3px;top:186.6px;font-size:5.5px;color:#1e5c38;font-family:'Liberation Serif', serif;font-style:italic;font-weight:700;transform:translateX(-50%) rotate(90deg);transform-origin:50% 0">taxi</div><div class="t" style="left:54.1px;top:55.8px;font-size:5.5px;color:#2f7a45;font-family:'Liberation Serif', serif;font-style:italic;font-weight:700;transform:translateX(-50%) rotate(-55deg);transform-origin:50% 0">hinder</div><div class="t" style="left:158.0px;top:164.8px;font-size:5.5px;color:#f6c52a;font-family:'Liberation Serif', serif;font-style:italic;font-weight:700;transform:translateX(-50%) rotate(0deg);transform-origin:50% 0">pijl</div><div class="t" style="left:166.8px;top:106.3px;font-size:5.5px;color:#f2b400;font-family:'Liberation Serif', serif;font-style:italic;font-weight:700;transform:translateX(-50%) rotate(0deg);transform-origin:50% 0">voetbal</div><div class="t" style="left:163.2px;top:75.9px;font-size:5.5px;color:#b6cf33;font-family:'Liberation Serif', serif;font-style:italic;font-weight:700;transform:translateX(-50%) rotate(0deg);transform-origin:50% 0">dj</div><div class="t" style="left:136.4px;top:108.7px;font-size:5.5px;color:#6fae35;font-family:'Liberation Serif', serif;font-style:italic;font-weight:700;transform:translateX(-50%) rotate(-60deg);transform-origin:50% 0">dj</div><div class="t" style="left:126.9px;top:48.2px;font-size:5.5px;color:#f2b400;font-family:'Liberation Serif', serif;font-style:italic;font-weight:700;transform:translateX(-50%) rotate(0deg);transform-origin:50% 0">tractor</div><div class="t" style="left:40.9px;top:162.1px;font-size:5.5px;color:#f6c52a;font-family:'Liberation Serif', serif;font-style:italic;font-weight:700;transform:translateX(-50%) rotate(0deg);transform-origin:50% 0">sport</div><div class="t" style="left:135.3px;top:185.2px;font-size:5.5px;color:#f6c52a;font-family:'Liberation Serif', serif;font-style:italic;font-weight:700;transform:translateX(-50%) rotate(0deg);transform-origin:50% 0">bus</div><div class="t" style="left:25.8px;top:146.7px;font-size:5.5px;color:#f2b400;font-family:'Liberation Serif', serif;font-style:italic;font-weight:700;transform:translateX(-50%) rotate(90deg);transform-origin:50% 0">ganzen</div><div class="t" style="left:140.8px;top:56.7px;font-size:5.5px;color:#9cc42a;font-family:'Liberation Serif', serif;font-style:italic;font-weight:700;transform:translateX(-50%) rotate(0deg);transform-origin:50% 0">voetbal</div><div class="t" style="left:35.1px;top:75.2px;font-size:5.5px;color:#f2b400;font-family:'Liberation Serif', serif;font-style:italic;font-weight:700;transform:translateX(-50%) rotate(0deg);transform-origin:50% 0">bus</div><div class="t" style="left:51.4px;top:98.7px;font-size:5.5px;color:#b6cf33;font-family:'Liberation Serif', serif;font-style:italic;font-weight:700;transform:translateX(-50%) rotate(0deg);transform-origin:50% 0">motor</div><div class="t" style="left:150.0px;top:101.2px;font-size:5.5px;color:#f6c52a;font-family:'Liberation Serif', serif;font-style:italic;font-weight:700;transform:translateX(-50%) rotate(0deg);transform-origin:50% 0">ja</div><div class="t" style="left:47.7px;top:149.3px;font-size:5.5px;color:#e2a300;font-family:'Liberation Serif', serif;font-style:italic;font-weight:700;transform:translateX(-50%) rotate(0deg);transform-origin:50% 0">buren</div><div class="t" style="left:118.2px;top:149.4px;font-size:5.5px;color:#9cc42a;font-family:'Liberation Serif', serif;font-style:italic;font-weight:700;transform:translateX(-50%) rotate(0deg);transform-origin:50% 0">hamer</div><div class="t" style="left:18.7px;top:134.2px;font-size:5.5px;color:#2f7a45;font-family:'Liberation Serif', serif;font-style:italic;font-weight:700;transform:translateX(-50%) rotate(90deg);transform-origin:50% 0">speakers</div><div class="t" style="left:70.1px;top:55.2px;font-size:5.5px;color:#f6c52a;font-family:'Liberation Serif', serif;font-style:italic;font-weight:700;transform:translateX(-50%) rotate(0deg);transform-origin:50% 0">zingen</div><div class="t" style="left:74.4px;top:193.9px;font-size:5.5px;color:#2f7a45;font-family:'Liberation Serif', serif;font-style:italic;font-weight:700;transform:translateX(-50%) rotate(0deg);transform-origin:50% 0">vaart</div><div class="t" style="left:117.8px;top:42.8px;font-size:5.5px;color:#9cc42a;font-family:'Liberation Serif', serif;font-style:italic;font-weight:700;transform:translateX(-50%) rotate(0deg);transform-origin:50% 0">pijl</div><div class="t" style="left:91.7px;top:41.5px;font-size:5.5px;color:#f2b400;font-family:'Liberation Serif', serif;font-style:italic;font-weight:700;transform:translateX(-50%) rotate(0deg);transform-origin:50% 0">opgevoerde</div><div class="t" style="left:92.6px;top:58.9px;font-size:5.5px;color:#f2b400;font-family:'Liberation Serif', serif;font-style:italic;font-weight:700;transform:translateX(-50%) rotate(0deg);transform-origin:50% 0">auto</div><div class="t" style="left:82.2px;top:61.5px;font-size:5.5px;color:#9cc42a;font-family:'Liberation Serif', serif;font-style:italic;font-weight:700;transform:translateX(-50%) rotate(0deg);transform-origin:50% 0">snel</div><div class="t" style="left:106.2px;top:75.2px;font-size:5.5px;color:#1e5c38;font-family:'Liberation Serif', serif;font-style:italic;font-weight:700;transform:translateX(-50%) rotate(0deg);transform-origin:50% 0">hard</div><div class="t" style="left:33.1px;top:93.7px;font-size:5.5px;color:#2f7a45;font-family:'Liberation Serif', serif;font-style:italic;font-weight:700;transform:translateX(-50%) rotate(0deg);transform-origin:50% 0">knal</div><div class="t" style="left:128.2px;top:57.2px;font-size:5.5px;color:#f2b400;font-family:'Liberation Serif', serif;font-style:italic;font-weight:700;transform:translateX(-50%) rotate(-90deg);transform-origin:50% 0">bas</div><div class="t" style="left:72.5px;top:189.8px;font-size:5.5px;color:#f2b400;font-family:'Liberation Serif', serif;font-style:italic;font-weight:700;transform:translateX(-50%) rotate(0deg);transform-origin:50% 0">stil</div><div class="t" style="left:103.2px;top:192.9px;font-size:5.5px;color:#9cc42a;font-family:'Liberation Serif', serif;font-style:italic;font-weight:700;transform:translateX(-50%) rotate(0deg);transform-origin:50% 0">heipalen</div><div class="t" style="left:35.2px;top:106.2px;font-size:5.5px;color:#6fae35;font-family:'Liberation Serif', serif;font-style:italic;font-weight:700;transform:translateX(-50%) rotate(0deg);transform-origin:50% 0">stil</div><div class="t" style="left:93.4px;top:90.7px;font-size:5.5px;color:#e2a300;font-family:'Liberation Serif', serif;font-style:italic;font-weight:700;transform:translateX(-50%) rotate(0deg);transform-origin:50% 0">stil</div><div class="t" style="left:125.8px;top:170.7px;font-size:5.5px;color:#e2a300;font-family:'Liberation Serif', serif;font-style:italic;font-weight:700;transform:translateX(-50%) rotate(0deg);transform-origin:50% 0">kerk</div><div class="t" style="left:78.2px;top:48.0px;font-size:5.5px;color:#9cc42a;font-family:'Liberation Serif', serif;font-style:italic;font-weight:700;transform:translateX(-50%) rotate(0deg);transform-origin:50% 0">hard</div><div class="t" style="left:138.8px;top:173.0px;font-size:5.5px;color:#f2b400;font-family:'Liberation Serif', serif;font-style:italic;font-weight:700;transform:translateX(-50%) rotate(90deg);transform-origin:50% 0">hamer</div><div class="t" style="left:165.4px;top:159.7px;font-size:5.5px;color:#f2b400;font-family:'Liberation Serif', serif;font-style:italic;font-weight:700;transform:translateX(-50%) rotate(0deg);transform-origin:50% 0">snel</div><div class="t" style="left:36.7px;top:127.6px;font-size:5.5px;color:#f2b400;font-family:'Liberation Serif', serif;font-style:italic;font-weight:700;transform:translateX(-50%) rotate(0deg);transform-origin:50% 0">slaap</div><div class="t" style="left:44.3px;top:165.9px;font-size:5.5px;color:#f2b400;font-family:'Liberation Serif', serif;font-style:italic;font-weight:700;transform:translateX(-50%) rotate(0deg);transform-origin:50% 0">kraan</div><div class="t" style="left:80.9px;top:89.4px;font-size:5.5px;color:#9cc42a;font-family:'Liberation Serif', serif;font-style:italic;font-weight:700;transform:translateX(-50%) rotate(-90deg);transform-origin:50% 0">terras</div><div class="t" style="left:58.5px;top:173.7px;font-size:4.8px;color:#e2a300;font-family:'Liberation Serif', serif;font-style:italic;font-weight:700;transform:translateX(-50%) rotate(90deg);transform-origin:50% 0">bas</div><div class="t" style="left:166.1px;top:101.1px;font-size:4.8px;color:#f2b400;font-family:'Liberation Serif', serif;font-style:italic;font-weight:700;transform:translateX(-50%) rotate(0deg);transform-origin:50% 0">muur</div><div class="t" style="left:149.1px;top:90.3px;font-size:4.8px;color:#e2a300;font-family:'Liberation Serif', serif;font-style:italic;font-weight:700;transform:translateX(-50%) rotate(0deg);transform-origin:50% 0">sluis</div><div class="t" style="left:165.3px;top:148.6px;font-size:4.8px;color:#9cc42a;font-family:'Liberation Serif', serif;font-style:italic;font-weight:700;transform:translateX(-50%) rotate(90deg);transform-origin:50% 0">camping</div><div class="t" style="left:31.8px;top:79.3px;font-size:4.8px;color:#f6c52a;font-family:'Liberation Serif', serif;font-style:italic;font-weight:700;transform:translateX(-50%) rotate(0deg);transform-origin:50% 0">geen</div><div class="t" style="left:78.1px;top:200.1px;font-size:4.8px;color:#6fae35;font-family:'Liberation Serif', serif;font-style:italic;font-weight:700;transform:translateX(-50%) rotate(0deg);transform-origin:50% 0">rotje</div><div class="t" style="left:174.2px;top:125.5px;font-size:4.8px;color:#1e5c38;font-family:'Liberation Serif', serif;font-style:italic;font-weight:700;transform:translateX(-50%) rotate(0deg);transform-origin:50% 0">sloop</div><div class="t" style="left:62.9px;top:62.5px;font-size:4.8px;color:#9cc42a;font-family:'Liberation Serif', serif;font-style:italic;font-weight:700;transform:translateX(-50%) rotate(0deg);transform-origin:50% 0">geen</div><div class="t" style="left:112.5px;top:47.9px;font-size:4.8px;color:#b6cf33;font-family:'Liberation Serif', serif;font-style:italic;font-weight:700;transform:translateX(-50%) rotate(-90deg);transform-origin:50% 0">ja</div><div class="t" style="left:48.1px;top:112.7px;font-size:4.8px;color:#f2b400;font-family:'Liberation Serif', serif;font-style:italic;font-weight:700;transform:translateX(-50%) rotate(0deg);transform-origin:50% 0">bus</div><div class="t" style="left:120.6px;top:53.0px;font-size:4.8px;color:#f2b400;font-family:'Liberation Serif', serif;font-style:italic;font-weight:700;transform:translateX(-50%) rotate(0deg);transform-origin:50% 0">radio</div><div class="t" style="left:78.5px;top:132.3px;font-size:4.8px;color:#2f7a45;font-family:'Liberation Serif', serif;font-style:italic;font-weight:700;transform:translateX(-50%) rotate(55deg);transform-origin:50% 0">kerk</div><div class="t" style="left:46.1px;top:91.0px;font-size:4.8px;color:#f6c52a;font-family:'Liberation Serif', serif;font-style:italic;font-weight:700;transform:translateX(-50%) rotate(90deg);transform-origin:50% 0">nee</div><div class="t" style="left:41.7px;top:95.0px;font-size:4.8px;color:#9cc42a;font-family:'Liberation Serif', serif;font-style:italic;font-weight:700;transform:translateX(-50%) rotate(-90deg);transform-origin:50% 0">spoor</div><div class="t" style="left:154.2px;top:74.7px;font-size:4.8px;color:#1e5c38;font-family:'Liberation Serif', serif;font-style:italic;font-weight:700;transform:translateX(-50%) rotate(0deg);transform-origin:50% 0">kermis</div><div class="t" style="left:29.5px;top:165.5px;font-size:4.8px;color:#1e5c38;font-family:'Liberation Serif', serif;font-style:italic;font-weight:700;transform:translateX(-50%) rotate(65deg);transform-origin:50% 0">avond</div><div class="t" style="left:70.5px;top:123.6px;font-size:4.8px;color:#2f7a45;font-family:'Liberation Serif', serif;font-style:italic;font-weight:700;transform:translateX(-50%) rotate(0deg);transform-origin:50% 0">racen</div><div class="t" style="left:33.2px;top:110.6px;font-size:4.8px;color:#9cc42a;font-family:'Liberation Serif', serif;font-style:italic;font-weight:700;transform:translateX(-50%) rotate(0deg);transform-origin:50% 0">vaak</div><div class="t" style="left:150.4px;top:179.9px;font-size:4.8px;color:#f2b400;font-family:'Liberation Serif', serif;font-style:italic;font-weight:700;transform:translateX(-50%) rotate(-90deg);transform-origin:50% 0">heli</div><div class="t" style="left:63.9px;top:191.8px;font-size:4.8px;color:#6fae35;font-family:'Liberation Serif', serif;font-style:italic;font-weight:700;transform:translateX(-50%) rotate(0deg);transform-origin:50% 0">rust</div><div class="t" style="left:167.6px;top:88.1px;font-size:4.8px;color:#f2b400;font-family:'Liberation Serif', serif;font-style:italic;font-weight:700;transform:translateX(-50%) rotate(0deg);transform-origin:50% 0">ja</div><div class="t" style="left:23.5px;top:92.9px;font-size:4.8px;color:#6fae35;font-family:'Liberation Serif', serif;font-style:italic;font-weight:700;transform:translateX(-50%) rotate(-90deg);transform-origin:50% 0">motoren</div><div class="t" style="left:47.6px;top:127.8px;font-size:4.8px;color:#2f7a45;font-family:'Liberation Serif', serif;font-style:italic;font-weight:700;transform:translateX(-50%) rotate(0deg);transform-origin:50% 0">bus</div><div class="t" style="left:56.6px;top:168.3px;font-size:4.8px;color:#e2a300;font-family:'Liberation Serif', serif;font-style:italic;font-weight:700;transform:translateX(-50%) rotate(0deg);transform-origin:50% 0">dj</div><div class="t" style="left:133.7px;top:99.5px;font-size:4.8px;color:#f6c52a;font-family:'Liberation Serif', serif;font-style:italic;font-weight:700;transform:translateX(-50%) rotate(-65deg);transform-origin:50% 0">carbid</div><div class="t" style="left:51.3px;top:136.8px;font-size:4.8px;color:#9cc42a;font-family:'Liberation Serif', serif;font-style:italic;font-weight:700;transform:translateX(-50%) rotate(0deg);transform-origin:50% 0">kraan</div><div class="t" style="left:107.0px;top:62.0px;font-size:4.8px;color:#1e5c38;font-family:'Liberation Serif', serif;font-style:italic;font-weight:700;transform:translateX(-50%) rotate(0deg);transform-origin:50% 0">altijd</div><div class="t" style="left:73.8px;top:77.6px;font-size:4.8px;color:#6fae35;font-family:'Liberation Serif', serif;font-style:italic;font-weight:700;transform:translateX(-50%) rotate(90deg);transform-origin:50% 0">pijl</div><div class="t" style="left:60.7px;top:75.3px;font-size:4.8px;color:#9cc42a;font-family:'Liberation Serif', serif;font-style:italic;font-weight:700;transform:translateX(-50%) rotate(0deg);transform-origin:50% 0">nee</div><div class="t" style="left:95.6px;top:87.1px;font-size:4.8px;color:#f6c52a;font-family:'Liberation Serif', serif;font-style:italic;font-weight:700;transform:translateX(-50%) rotate(0deg);transform-origin:50% 0">speeltuin</div><div class="t" style="left:105.9px;top:202.0px;font-size:4.8px;color:#1e5c38;font-family:'Liberation Serif', serif;font-style:italic;font-weight:700;transform:translateX(-50%) rotate(0deg);transform-origin:50% 0">muur</div><div class="t" style="left:156.6px;top:104.7px;font-size:4.8px;color:#b6cf33;font-family:'Liberation Serif', serif;font-style:italic;font-weight:700;transform:translateX(-50%) rotate(0deg);transform-origin:50% 0">ja</div><div class="t" style="left:90.1px;top:199.2px;font-size:4.8px;color:#1e5c38;font-family:'Liberation Serif', serif;font-style:italic;font-weight:700;transform:translateX(-50%) rotate(-90deg);transform-origin:50% 0">rust</div><div class="t" style="left:138.8px;top:52.7px;font-size:4.8px;color:#f2b400;font-family:'Liberation Serif', serif;font-style:italic;font-weight:700;transform:translateX(-50%) rotate(0deg);transform-origin:50% 0">sluis</div><div class="t" style="left:90.7px;top:190.1px;font-size:4.8px;color:#f2b400;font-family:'Liberation Serif', serif;font-style:italic;font-weight:700;transform:translateX(-50%) rotate(90deg);transform-origin:50% 0">rust</div><div class="t" style="left:46.7px;top:60.1px;font-size:4.8px;color:#1e5c38;font-family:'Liberation Serif', serif;font-style:italic;font-weight:700;transform:translateX(-50%) rotate(-65deg);transform-origin:50% 0">dak</div><div class="t" style="left:136.9px;top:163.8px;font-size:4.8px;color:#2f7a45;font-family:'Liberation Serif', serif;font-style:italic;font-weight:700;transform:translateX(-50%) rotate(0deg);transform-origin:50% 0">dak</div><div class="t" style="left:175.9px;top:110.2px;font-size:4.8px;color:#6fae35;font-family:'Liberation Serif', serif;font-style:italic;font-weight:700;transform:translateX(-50%) rotate(0deg);transform-origin:50% 0">nee</div><div class="t" style="left:95.2px;top:95.9px;font-size:4.8px;color:#e2a300;font-family:'Liberation Serif', serif;font-style:italic;font-weight:700;transform:translateX(-50%) rotate(0deg);transform-origin:50% 0">dj</div><div class="t" style="left:64.3px;top:97.8px;font-size:4.8px;color:#6fae35;font-family:'Liberation Serif', serif;font-style:italic;font-weight:700;transform:translateX(-50%) rotate(90deg);transform-origin:50% 0">trein</div><div class="t" style="left:160.2px;top:71.5px;font-size:4.8px;color:#f2b400;font-family:'Liberation Serif', serif;font-style:italic;font-weight:700;transform:translateX(-50%) rotate(0deg);transform-origin:50% 0">stil</div><div class="t" style="left:84.3px;top:103.2px;font-size:4.8px;color:#f2b400;font-family:'Liberation Serif', serif;font-style:italic;font-weight:700;transform:translateX(-50%) rotate(90deg);transform-origin:50% 0">sirene</div><div class="t" style="left:127.9px;top:188.8px;font-size:4.8px;color:#f6c52a;font-family:'Liberation Serif', serif;font-style:italic;font-weight:700;transform:translateX(-50%) rotate(0deg);transform-origin:50% 0">tuin</div><div class="t" style="left:51.1px;top:75.3px;font-size:4.8px;color:#b6cf33;font-family:'Liberation Serif', serif;font-style:italic;font-weight:700;transform:translateX(-50%) rotate(0deg);transform-origin:50% 0">sluis</div><div class="t" style="left:125.2px;top:123.2px;font-size:4.8px;color:#f2b400;font-family:'Liberation Serif', serif;font-style:italic;font-weight:700;transform:translateX(-50%) rotate(0deg);transform-origin:50% 0">kroeg</div><div class="t" style="left:139.8px;top:191.5px;font-size:4.8px;color:#f2b400;font-family:'Liberation Serif', serif;font-style:italic;font-weight:700;transform:translateX(-50%) rotate(0deg);transform-origin:50% 0">dj</div><div class="t" style="left:96.6px;top:101.1px;font-size:4.8px;color:#6fae35;font-family:'Liberation Serif', serif;font-style:italic;font-weight:700;transform:translateX(-50%) rotate(0deg);transform-origin:50% 0">stil</div><div class="t" style="left:63.8px;top:89.9px;font-size:4.2px;color:#b6cf33;font-family:'Liberation Serif', serif;font-style:italic;font-weight:700;transform:translateX(-50%) rotate(0deg);transform-origin:50% 0">dj</div><div class="t" style="left:38.6px;top:68.2px;font-size:4.2px;color:#2f7a45;font-family:'Liberation Serif', serif;font-style:italic;font-weight:700;transform:translateX(-50%) rotate(0deg);transform-origin:50% 0">bas</div><div class="t" style="left:44.7px;top:84.4px;font-size:4.2px;color:#f2b400;font-family:'Liberation Serif', serif;font-style:italic;font-weight:700;transform:translateX(-50%) rotate(90deg);transform-origin:50% 0">stil</div><div class="t" style="left:62.8px;top:127.4px;font-size:4.2px;color:#f2b400;font-family:'Liberation Serif', serif;font-style:italic;font-weight:700;transform:translateX(-50%) rotate(0deg);transform-origin:50% 0">heli</div><div class="t" style="left:125.4px;top:44.8px;font-size:4.2px;color:#9cc42a;font-family:'Liberation Serif', serif;font-style:italic;font-weight:700;transform:translateX(-50%) rotate(0deg);transform-origin:50% 0">taxi</div><div class="t" style="left:67.9px;top:59.0px;font-size:4.2px;color:#f2b400;font-family:'Liberation Serif', serif;font-style:italic;font-weight:700;transform:translateX(-50%) rotate(0deg);transform-origin:50% 0">knal</div><div class="t" style="left:21.0px;top:111.0px;font-size:4.2px;color:#f2b400;font-family:'Liberation Serif', serif;font-style:italic;font-weight:700;transform:translateX(-50%) rotate(0deg);transform-origin:50% 0">pomp</div><div class="t" style="left:90.2px;top:184.6px;font-size:4.2px;color:#b6cf33;font-family:'Liberation Serif', serif;font-style:italic;font-weight:700;transform:translateX(-50%) rotate(0deg);transform-origin:50% 0">ja</div><div class="t" style="left:147.3px;top:171.2px;font-size:4.2px;color:#f2b400;font-family:'Liberation Serif', serif;font-style:italic;font-weight:700;transform:translateX(-50%) rotate(-90deg);transform-origin:50% 0">feest</div><div class="t" style="left:60.1px;top:183.9px;font-size:4.2px;color:#f6c52a;font-family:'Liberation Serif', serif;font-style:italic;font-weight:700;transform:translateX(-50%) rotate(0deg);transform-origin:50% 0">dagelijks</div><div class="t" style="left:174.7px;top:113.9px;font-size:4.2px;color:#f2b400;font-family:'Liberation Serif', serif;font-style:italic;font-weight:700;transform:translateX(-50%) rotate(0deg);transform-origin:50% 0">carbid</div><div class="t" style="left:61.5px;top:161.8px;font-size:4.2px;color:#b6cf33;font-family:'Liberation Serif', serif;font-style:italic;font-weight:700;transform:translateX(-50%) rotate(0deg);transform-origin:50% 0">kraaien</div><div class="t" style="left:129.5px;top:119.6px;font-size:4.2px;color:#1e5c38;font-family:'Liberation Serif', serif;font-style:italic;font-weight:700;transform:translateX(-50%) rotate(0deg);transform-origin:50% 0">dj</div><div class="t" style="left:41.4px;top:110.5px;font-size:4.2px;color:#f2b400;font-family:'Liberation Serif', serif;font-style:italic;font-weight:700;transform:translateX(-50%) rotate(0deg);transform-origin:50% 0">pijl</div><div class="t" style="left:31.3px;top:151.4px;font-size:4.2px;color:#f2b400;font-family:'Liberation Serif', serif;font-style:italic;font-weight:700;transform:translateX(-50%) rotate(0deg);transform-origin:50% 0">stil</div><div class="t" style="left:147.8px;top:162.7px;font-size:4.2px;color:#f2b400;font-family:'Liberation Serif', serif;font-style:italic;font-weight:700;transform:translateX(-50%) rotate(0deg);transform-origin:50% 0">kroeg</div><div class="t" style="left:153.5px;top:67.4px;font-size:4.2px;color:#9cc42a;font-family:'Liberation Serif', serif;font-style:italic;font-weight:700;transform:translateX(-50%) rotate(-60deg);transform-origin:50% 0">rotje</div><div class="t" style="left:148.4px;top:119.1px;font-size:4.2px;color:#f6c52a;font-family:'Liberation Serif', serif;font-style:italic;font-weight:700;transform:translateX(-50%) rotate(0deg);transform-origin:50% 0">soms</div><div class="t" style="left:19.9px;top:121.8px;font-size:4.2px;color:#2f7a45;font-family:'Liberation Serif', serif;font-style:italic;font-weight:700;transform:translateX(-50%) rotate(0deg);transform-origin:50% 0">dj</div><div class="t" style="left:43.6px;top:155.4px;font-size:4.2px;color:#6fae35;font-family:'Liberation Serif', serif;font-style:italic;font-weight:700;transform:translateX(-50%) rotate(-90deg);transform-origin:50% 0">snel</div><div class="t" style="left:93.3px;top:62.5px;font-size:4.2px;color:#f2b400;font-family:'Liberation Serif', serif;font-style:italic;font-weight:700;transform:translateX(-50%) rotate(0deg);transform-origin:50% 0">kraan</div><div class="t" style="left:34.6px;top:85.1px;font-size:4.2px;color:#6fae35;font-family:'Liberation Serif', serif;font-style:italic;font-weight:700;transform:translateX(-50%) rotate(0deg);transform-origin:50% 0">zingen</div><div class="t" style="left:30.0px;top:105.0px;font-size:4.2px;color:#b6cf33;font-family:'Liberation Serif', serif;font-style:italic;font-weight:700;transform:translateX(-50%) rotate(90deg);transform-origin:50% 0">snel</div><div class="t" style="left:52.3px;top:154.7px;font-size:4.2px;color:#9cc42a;font-family:'Liberation Serif', serif;font-style:italic;font-weight:700;transform:translateX(-50%) rotate(0deg);transform-origin:50% 0">fiets</div><div class="t" style="left:22.0px;top:148.2px;font-size:4.2px;color:#9cc42a;font-family:'Liberation Serif', serif;font-style:italic;font-weight:700;transform:translateX(-50%) rotate(90deg);transform-origin:50% 0">knallen</div><div class="t" style="left:35.4px;top:136.8px;font-size:4.2px;color:#f2b400;font-family:'Liberation Serif', serif;font-style:italic;font-weight:700;transform:translateX(-50%) rotate(0deg);transform-origin:50% 0">feest</div><div class="t" style="left:77.2px;top:85.8px;font-size:4.2px;color:#f6c52a;font-family:'Liberation Serif', serif;font-style:italic;font-weight:700;transform:translateX(-50%) rotate(90deg);transform-origin:50% 0">rotje</div><div class="t" style="left:123.3px;top:198.1px;font-size:4.2px;color:#f2b400;font-family:'Liberation Serif', serif;font-style:italic;font-weight:700;transform:translateX(-50%) rotate(0deg);transform-origin:50% 0">trein</div><div class="t" style="left:37.2px;top:71.5px;font-size:4.2px;color:#e2a300;font-family:'Liberation Serif', serif;font-style:italic;font-weight:700;transform:translateX(-50%) rotate(0deg);transform-origin:50% 0">tuin</div><div class="t" style="left:169.0px;top:82.0px;font-size:4.2px;color:#2f7a45;font-family:'Liberation Serif', serif;font-style:italic;font-weight:700;transform:translateX(-50%) rotate(-65deg);transform-origin:50% 0">ja</div><div class="t" style="left:125.7px;top:183.9px;font-size:4.2px;color:#f2b400;font-family:'Liberation Serif', serif;font-style:italic;font-weight:700;transform:translateX(-50%) rotate(0deg);transform-origin:50% 0">cobra</div><div class="t" style="left:96.1px;top:200.7px;font-size:4.2px;color:#6fae35;font-family:'Liberation Serif', serif;font-style:italic;font-weight:700;transform:translateX(-50%) rotate(0deg);transform-origin:50% 0">dj</div><div class="t" style="left:138.4px;top:61.0px;font-size:4.2px;color:#6fae35;font-family:'Liberation Serif', serif;font-style:italic;font-weight:700;transform:translateX(-50%) rotate(0deg);transform-origin:50% 0">vaak</div><div class="t" style="left:152.4px;top:108.2px;font-size:4.2px;color:#f6c52a;font-family:'Liberation Serif', serif;font-style:italic;font-weight:700;transform:translateX(-50%) rotate(55deg);transform-origin:50% 0">terras</div><div class="t" style="left:33.3px;top:162.1px;font-size:4.2px;color:#f2b400;font-family:'Liberation Serif', serif;font-style:italic;font-weight:700;transform:translateX(-50%) rotate(90deg);transform-origin:50% 0">sloop</div><div class="t" style="left:59.3px;top:150.4px;font-size:4.2px;color:#f2b400;font-family:'Liberation Serif', serif;font-style:italic;font-weight:700;transform:translateX(-50%) rotate(0deg);transform-origin:50% 0">stil</div><div class="t" style="left:101.5px;top:189.6px;font-size:4.2px;color:#9cc42a;font-family:'Liberation Serif', serif;font-style:italic;font-weight:700;transform:translateX(-50%) rotate(0deg);transform-origin:50% 0">pijl</div><div class="t" style="left:41.2px;top:105.2px;font-size:4.2px;color:#9cc42a;font-family:'Liberation Serif', serif;font-style:italic;font-weight:700;transform:translateX(-50%) rotate(90deg);transform-origin:50% 0">tuin</div><div class="t" style="left:115.2px;top:170.2px;font-size:4.2px;color:#f2b400;font-family:'Liberation Serif', serif;font-style:italic;font-weight:700;transform:translateX(-50%) rotate(-60deg);transform-origin:50% 0">dj</div><div class="t" style="left:56.1px;top:178.8px;font-size:4.2px;color:#1e5c38;font-family:'Liberation Serif', serif;font-style:italic;font-weight:700;transform:translateX(-50%) rotate(-90deg);transform-origin:50% 0">ja</div><div class="t" style="left:129.4px;top:109.1px;font-size:4.2px;color:#6fae35;font-family:'Liberation Serif', serif;font-style:italic;font-weight:700;transform:translateX(-50%) rotate(0deg);transform-origin:50% 0">zaag</div><div class="t" style="left:19.9px;top:96.3px;font-size:4.2px;color:#e2a300;font-family:'Liberation Serif', serif;font-style:italic;font-weight:700;transform:translateX(-50%) rotate(0deg);transform-origin:50% 0">ja</div><div class="t" style="left:53.6px;top:88.0px;font-size:4.2px;color:#2f7a45;font-family:'Liberation Serif', serif;font-style:italic;font-weight:700;transform:translateX(-50%) rotate(0deg);transform-origin:50% 0">heli</div><div class="t" style="left:65.9px;top:52.0px;font-size:4.2px;color:#f2b400;font-family:'Liberation Serif', serif;font-style:italic;font-weight:700;transform:translateX(-50%) rotate(0deg);transform-origin:50% 0">stil</div><div class="t" style="left:96.4px;top:104.5px;font-size:4.2px;color:#f2b400;font-family:'Liberation Serif', serif;font-style:italic;font-weight:700;transform:translateX(-50%) rotate(0deg);transform-origin:50% 0">dj</div><div class="t" style="left:106.5px;top:150.8px;font-size:4.2px;color:#e2a300;font-family:'Liberation Serif', serif;font-style:italic;font-weight:700;transform:translateX(-50%) rotate(90deg);transform-origin:50% 0">stil</div><div class="t" style="left:37.1px;top:176.5px;font-size:4.2px;color:#e2a300;font-family:'Liberation Serif', serif;font-style:italic;font-weight:700;transform:translateX(-50%) rotate(0deg);transform-origin:50% 0">dj</div><div class="t" style="left:115.3px;top:201.5px;font-size:4.2px;color:#e2a300;font-family:'Liberation Serif', serif;font-style:italic;font-weight:700;transform:translateX(-50%) rotate(0deg);transform-origin:50% 0">dak</div><div class="t" style="left:161.5px;top:168.5px;font-size:4.2px;color:#b6cf33;font-family:'Liberation Serif', serif;font-style:italic;font-weight:700;transform:translateX(-50%) rotate(0deg);transform-origin:50% 0">snel</div><div class="t" style="left:106.3px;top:162.5px;font-size:4.2px;color:#f2b400;font-family:'Liberation Serif', serif;font-style:italic;font-weight:700;transform:translateX(-50%) rotate(0deg);transform-origin:50% 0">camping</div><div class="t" style="left:151.2px;top:82.5px;font-size:4.2px;color:#f6c52a;font-family:'Liberation Serif', serif;font-style:italic;font-weight:700;transform:translateX(-50%) rotate(0deg);transform-origin:50% 0">kroeg</div><div class="t" style="left:177.0px;top:136.5px;font-size:4.2px;color:#9cc42a;font-family:'Liberation Serif', serif;font-style:italic;font-weight:700;transform:translateX(-50%) rotate(90deg);transform-origin:50% 0">klokken</div><div class="t" style="left:162.6px;top:89.5px;font-size:4.2px;color:#e2a300;font-family:'Liberation Serif', serif;font-style:italic;font-weight:700;transform:translateX(-50%) rotate(0deg);transform-origin:50% 0">nee</div><div class="t" style="left:54.6px;top:95.4px;font-size:3.6px;color:#f6c52a;font-family:'Liberation Serif', serif;font-style:italic;font-weight:700;transform:translateX(-50%) rotate(0deg);transform-origin:50% 0">racen</div><div class="t" style="left:70.7px;top:127.0px;font-size:3.6px;color:#6fae35;font-family:'Liberation Serif', serif;font-style:italic;font-weight:700;transform:translateX(-50%) rotate(0deg);transform-origin:50% 0">nee</div><div class="t" style="left:75.0px;top:60.7px;font-size:3.6px;color:#f2b400;font-family:'Liberation Serif', serif;font-style:italic;font-weight:700;transform:translateX(-50%) rotate(-90deg);transform-origin:50% 0">feest</div><div class="t" style="left:165.1px;top:117.1px;font-size:3.6px;color:#f6c52a;font-family:'Liberation Serif', serif;font-style:italic;font-weight:700;transform:translateX(-50%) rotate(0deg);transform-origin:50% 0">vaak</div><div class="t" style="left:110.9px;top:40.1px;font-size:3.6px;color:#e2a300;font-family:'Liberation Serif', serif;font-style:italic;font-weight:700;transform:translateX(-50%) rotate(0deg);transform-origin:50% 0">nee</div><div class="t" style="left:93.0px;top:74.8px;font-size:3.6px;color:#9cc42a;font-family:'Liberation Serif', serif;font-style:italic;font-weight:700;transform:translateX(-50%) rotate(0deg);transform-origin:50% 0">ventilator</div><div class="t" style="left:98.7px;top:170.1px;font-size:3.6px;color:#6fae35;font-family:'Liberation Serif', serif;font-style:italic;font-weight:700;transform:translateX(-50%) rotate(0deg);transform-origin:50% 0">heien</div><div class="t" style="left:74.0px;top:51.4px;font-size:3.6px;color:#9cc42a;font-family:'Liberation Serif', serif;font-style:italic;font-weight:700;transform:translateX(-50%) rotate(0deg);transform-origin:50% 0">zingen</div><div class="t" style="left:137.6px;top:90.3px;font-size:3.6px;color:#2f7a45;font-family:'Liberation Serif', serif;font-style:italic;font-weight:700;transform:translateX(-50%) rotate(0deg);transform-origin:50% 0">nee</div><div class="t" style="left:156.6px;top:175.3px;font-size:3.6px;color:#f6c52a;font-family:'Liberation Serif', serif;font-style:italic;font-weight:700;transform:translateX(-50%) rotate(0deg);transform-origin:50% 0">feest</div><div class="t" style="left:175.1px;top:99.9px;font-size:3.6px;color:#1e5c38;font-family:'Liberation Serif', serif;font-style:italic;font-weight:700;transform:translateX(-50%) rotate(-60deg);transform-origin:50% 0">soms</div><div class="t" style="left:109.4px;top:147.8px;font-size:3.6px;color:#f2b400;font-family:'Liberation Serif', serif;font-style:italic;font-weight:700;transform:translateX(-50%) rotate(90deg);transform-origin:50% 0">bouw</div><div class="t" style="left:60.4px;top:168.2px;font-size:3.6px;color:#f2b400;font-family:'Liberation Serif', serif;font-style:italic;font-weight:700;transform:translateX(-50%) rotate(0deg);transform-origin:50% 0">dj</div><div class="t" style="left:117.4px;top:167.3px;font-size:3.6px;color:#f6c52a;font-family:'Liberation Serif', serif;font-style:italic;font-weight:700;transform:translateX(-50%) rotate(0deg);transform-origin:50% 0">dj</div><div class="t" style="left:81.2px;top:54.8px;font-size:3.6px;color:#f2b400;font-family:'Liberation Serif', serif;font-style:italic;font-weight:700;transform:translateX(-50%) rotate(-65deg);transform-origin:50% 0">bas</div><div class="t" style="left:151.1px;top:97.8px;font-size:3.6px;color:#f6c52a;font-family:'Liberation Serif', serif;font-style:italic;font-weight:700;transform:translateX(-50%) rotate(0deg);transform-origin:50% 0">ja</div><div class="t" style="left:35.4px;top:171.3px;font-size:3.6px;color:#f2b400;font-family:'Liberation Serif', serif;font-style:italic;font-weight:700;transform:translateX(-50%) rotate(-55deg);transform-origin:50% 0">wind</div><div class="t" style="left:55.5px;top:127.1px;font-size:3.6px;color:#6fae35;font-family:'Liberation Serif', serif;font-style:italic;font-weight:700;transform:translateX(-50%) rotate(0deg);transform-origin:50% 0">stil</div><div class="t" style="left:87.7px;top:55.8px;font-size:3.6px;color:#f2b400;font-family:'Liberation Serif', serif;font-style:italic;font-weight:700;transform:translateX(-50%) rotate(0deg);transform-origin:50% 0">airco</div><div class="t" style="left:166.9px;top:123.8px;font-size:3.6px;color:#f2b400;font-family:'Liberation Serif', serif;font-style:italic;font-weight:700;transform:translateX(-50%) rotate(90deg);transform-origin:50% 0">haven</div><div class="t" style="left:62.3px;top:195.0px;font-size:3.6px;color:#f2b400;font-family:'Liberation Serif', serif;font-style:italic;font-weight:700;transform:translateX(-50%) rotate(0deg);transform-origin:50% 0">rust</div><div class="t" style="left:61.5px;top:48.8px;font-size:3.6px;color:#f6c52a;font-family:'Liberation Serif', serif;font-style:italic;font-weight:700;transform:translateX(-50%) rotate(0deg);transform-origin:50% 0">stil</div><div class="t" style="left:75.2px;top:197.2px;font-size:3.6px;color:#e2a300;font-family:'Liberation Serif', serif;font-style:italic;font-weight:700;transform:translateX(-50%) rotate(0deg);transform-origin:50% 0">herrie</div><div class="t" style="left:172.3px;top:86.6px;font-size:3.6px;color:#e2a300;font-family:'Liberation Serif', serif;font-style:italic;font-weight:700;transform:translateX(-50%) rotate(0deg);transform-origin:50% 0">ja</div><div class="t" style="left:57.9px;top:154.5px;font-size:3.6px;color:#f2b400;font-family:'Liberation Serif', serif;font-style:italic;font-weight:700;transform:translateX(-50%) rotate(0deg);transform-origin:50% 0">dj</div><div class="t" style="left:43.2px;top:124.5px;font-size:3.6px;color:#e2a300;font-family:'Liberation Serif', serif;font-style:italic;font-weight:700;transform:translateX(-50%) rotate(0deg);transform-origin:50% 0">verkeer</div><div class="t" style="left:15.5px;top:120.6px;font-size:3.6px;color:#f2b400;font-family:'Liberation Serif', serif;font-style:italic;font-weight:700;transform:translateX(-50%) rotate(0deg);transform-origin:50% 0">dj</div><div class="t" style="left:149.4px;top:94.0px;font-size:3.6px;color:#e2a300;font-family:'Liberation Serif', serif;font-style:italic;font-weight:700;transform:translateX(-50%) rotate(0deg);transform-origin:50% 0">auto</div><div class="t" style="left:123.0px;top:116.8px;font-size:3.6px;color:#f2b400;font-family:'Liberation Serif', serif;font-style:italic;font-weight:700;transform:translateX(-50%) rotate(0deg);transform-origin:50% 0">ja</div><div class="t" style="left:88.0px;top:83.4px;font-size:3.6px;color:#9cc42a;font-family:'Liberation Serif', serif;font-style:italic;font-weight:700;transform:translateX(-50%) rotate(0deg);transform-origin:50% 0">fiets</div><div class="t" style="left:125.3px;top:120.3px;font-size:3.6px;color:#f2b400;font-family:'Liberation Serif', serif;font-style:italic;font-weight:700;transform:translateX(-50%) rotate(0deg);transform-origin:50% 0">stil</div><div class="t" style="left:111.5px;top:173.6px;font-size:3.6px;color:#f2b400;font-family:'Liberation Serif', serif;font-style:italic;font-weight:700;transform:translateX(-50%) rotate(0deg);transform-origin:50% 0">trein</div><div class="t" style="left:138.7px;top:122.0px;font-size:3.6px;color:#9cc42a;font-family:'Liberation Serif', serif;font-style:italic;font-weight:700;transform:translateX(-50%) rotate(0deg);transform-origin:50% 0">bus</div><div class="t" style="left:171.2px;top:135.2px;font-size:3.6px;color:#9cc42a;font-family:'Liberation Serif', serif;font-style:italic;font-weight:700;transform:translateX(-50%) rotate(0deg);transform-origin:50% 0">bouw</div><div class="t" style="left:59.1px;top:58.3px;font-size:3.6px;color:#f2b400;font-family:'Liberation Serif', serif;font-style:italic;font-weight:700;transform:translateX(-50%) rotate(0deg);transform-origin:50% 0">stil</div><div class="t" style="left:135.4px;top:174.1px;font-size:3.6px;color:#1e5c38;font-family:'Liberation Serif', serif;font-style:italic;font-weight:700;transform:translateX(-50%) rotate(90deg);transform-origin:50% 0">storm</div><div class="t" style="left:178.5px;top:122.4px;font-size:3.6px;color:#e2a300;font-family:'Liberation Serif', serif;font-style:italic;font-weight:700;transform:translateX(-50%) rotate(0deg);transform-origin:50% 0">vaak</div><div class="t" style="left:23.9px;top:132.3px;font-size:3.6px;color:#f2b400;font-family:'Liberation Serif', serif;font-style:italic;font-weight:700;transform:translateX(-50%) rotate(0deg);transform-origin:50% 0">dj</div><div class="t" style="left:147.1px;top:165.5px;font-size:3.6px;color:#b6cf33;font-family:'Liberation Serif', serif;font-style:italic;font-weight:700;transform:translateX(-50%) rotate(0deg);transform-origin:50% 0">glasbak</div><div class="t" style="left:74.7px;top:43.0px;font-size:3.6px;color:#f2b400;font-family:'Liberation Serif', serif;font-style:italic;font-weight:700;transform:translateX(-50%) rotate(0deg);transform-origin:50% 0">deur</div><div class="t" style="left:153.1px;top:168.4px;font-size:3.6px;color:#9cc42a;font-family:'Liberation Serif', serif;font-style:italic;font-weight:700;transform:translateX(-50%) rotate(0deg);transform-origin:50% 0">sluis</div><div class="t" style="left:21.0px;top:108.3px;font-size:3.6px;color:#f6c52a;font-family:'Liberation Serif', serif;font-style:italic;font-weight:700;transform:translateX(-50%) rotate(0deg);transform-origin:50% 0">rust</div><div class="t" style="left:60.7px;top:180.4px;font-size:3.6px;color:#e2a300;font-family:'Liberation Serif', serif;font-style:italic;font-weight:700;transform:translateX(-50%) rotate(0deg);transform-origin:50% 0">ja</div><div class="t" style="left:107.5px;top:170.0px;font-size:3.6px;color:#e2a300;font-family:'Liberation Serif', serif;font-style:italic;font-weight:700;transform:translateX(-50%) rotate(0deg);transform-origin:50% 0">storm</div><div class="t" style="left:166.0px;top:81.5px;font-size:3.6px;color:#b6cf33;font-family:'Liberation Serif', serif;font-style:italic;font-weight:700;transform:translateX(-50%) rotate(-55deg);transform-origin:50% 0">ja</div><div class="t" style="left:135.2px;top:190.7px;font-size:3.6px;color:#1e5c38;font-family:'Liberation Serif', serif;font-style:italic;font-weight:700;transform:translateX(-50%) rotate(-90deg);transform-origin:50% 0">dj</div><div class="t" style="left:77.0px;top:92.5px;font-size:3.6px;color:#9cc42a;font-family:'Liberation Serif', serif;font-style:italic;font-weight:700;transform:translateX(-50%) rotate(90deg);transform-origin:50% 0">ja</div><div class="t" style="left:138.3px;top:103.8px;font-size:3.6px;color:#2f7a45;font-family:'Liberation Serif', serif;font-style:italic;font-weight:700;transform:translateX(-50%) rotate(0deg);transform-origin:50% 0">tuin</div><div class="t" style="left:158.9px;top:116.0px;font-size:3.6px;color:#9cc42a;font-family:'Liberation Serif', serif;font-style:italic;font-weight:700;transform:translateX(-50%) rotate(0deg);transform-origin:50% 0">stil</div><div class="t" style="left:146.8px;top:183.0px;font-size:3.6px;color:#f2b400;font-family:'Liberation Serif', serif;font-style:italic;font-weight:700;transform:translateX(-50%) rotate(90deg);transform-origin:50% 0">rotje</div><div class="t" style="left:47.6px;top:174.3px;font-size:3.6px;color:#b6cf33;font-family:'Liberation Serif', serif;font-style:italic;font-weight:700;transform:translateX(-50%) rotate(-90deg);transform-origin:50% 0">sluis</div><div class="t" style="left:157.0px;top:100.6px;font-size:3.6px;color:#f2b400;font-family:'Liberation Serif', serif;font-style:italic;font-weight:700;transform:translateX(-50%) rotate(0deg);transform-origin:50% 0">nee</div><div class="t" style="left:52.9px;top:163.6px;font-size:3.6px;color:#f6c52a;font-family:'Liberation Serif', serif;font-style:italic;font-weight:700;transform:translateX(-50%) rotate(90deg);transform-origin:50% 0">stil</div><div class="t" style="left:160.9px;top:80.2px;font-size:3.6px;color:#b6cf33;font-family:'Liberation Serif', serif;font-style:italic;font-weight:700;transform:translateX(-50%) rotate(0deg);transform-origin:50% 0">tuin</div><div class="t" style="left:24.3px;top:136.5px;font-size:3.6px;color:#b6cf33;font-family:'Liberation Serif', serif;font-style:italic;font-weight:700;transform:translateX(-50%) rotate(0deg);transform-origin:50% 0">sluis</div><div class="t" style="left:58.4px;top:88.0px;font-size:3.6px;color:#1e5c38;font-family:'Liberation Serif', serif;font-style:italic;font-weight:700;transform:translateX(-50%) rotate(-90deg);transform-origin:50% 0">ja</div><div class="t" style="left:116.8px;top:50.2px;font-size:3.1px;color:#6fae35;font-family:'Liberation Serif', serif;font-style:italic;font-weight:700;transform:translateX(-50%) rotate(0deg);transform-origin:50% 0">bus</div><div class="t" style="left:167.4px;top:165.2px;font-size:3.1px;color:#6fae35;font-family:'Liberation Serif', serif;font-style:italic;font-weight:700;transform:translateX(-50%) rotate(-60deg);transform-origin:50% 0">snel</div><div class="t" style="left:177.8px;top:102.0px;font-size:3.1px;color:#6fae35;font-family:'Liberation Serif', serif;font-style:italic;font-weight:700;transform:translateX(-50%) rotate(90deg);transform-origin:50% 0">dak</div><div class="t" style="left:124.2px;top:113.3px;font-size:3.1px;color:#f2b400;font-family:'Liberation Serif', serif;font-style:italic;font-weight:700;transform:translateX(-50%) rotate(90deg);transform-origin:50% 0">dj</div><div class="t" style="left:55.4px;top:61.5px;font-size:3.1px;color:#f2b400;font-family:'Liberation Serif', serif;font-style:italic;font-weight:700;transform:translateX(-50%) rotate(0deg);transform-origin:50% 0">pijl</div><div class="t" style="left:60.2px;top:81.1px;font-size:3.1px;color:#f6c52a;font-family:'Liberation Serif', serif;font-style:italic;font-weight:700;transform:translateX(-50%) rotate(60deg);transform-origin:50% 0">pijl</div><div class="t" style="left:170.7px;top:155.5px;font-size:3.1px;color:#f2b400;font-family:'Liberation Serif', serif;font-style:italic;font-weight:700;transform:translateX(-50%) rotate(90deg);transform-origin:50% 0">bus</div><div class="t" style="left:155.7px;top:70.7px;font-size:3.1px;color:#f2b400;font-family:'Liberation Serif', serif;font-style:italic;font-weight:700;transform:translateX(-50%) rotate(90deg);transform-origin:50% 0">nee</div><div class="t" style="left:50.8px;top:183.3px;font-size:3.1px;color:#f2b400;font-family:'Liberation Serif', serif;font-style:italic;font-weight:700;transform:translateX(-50%) rotate(-65deg);transform-origin:50% 0">ja</div><div class="t" style="left:149.6px;top:133.1px;font-size:3.1px;color:#6fae35;font-family:'Liberation Serif', serif;font-style:italic;font-weight:700;transform:translateX(-50%) rotate(0deg);transform-origin:50% 0">motor</div><div class="t" style="left:162.5px;top:153.1px;font-size:3.1px;color:#9cc42a;font-family:'Liberation Serif', serif;font-style:italic;font-weight:700;transform:translateX(-50%) rotate(90deg);transform-origin:50% 0">dak</div><div class="t" style="left:32.8px;top:124.8px;font-size:3.1px;color:#b6cf33;font-family:'Liberation Serif', serif;font-style:italic;font-weight:700;transform:translateX(-50%) rotate(0deg);transform-origin:50% 0">pijl</div><div class="t" style="left:157.4px;top:89.3px;font-size:3.1px;color:#f2b400;font-family:'Liberation Serif', serif;font-style:italic;font-weight:700;transform:translateX(-50%) rotate(0deg);transform-origin:50% 0">ja</div><div class="t" style="left:122.3px;top:189.3px;font-size:3.1px;color:#9cc42a;font-family:'Liberation Serif', serif;font-style:italic;font-weight:700;transform:translateX(-50%) rotate(90deg);transform-origin:50% 0">sluis</div><div class="t" style="left:67.9px;top:148.1px;font-size:3.1px;color:#e2a300;font-family:'Liberation Serif', serif;font-style:italic;font-weight:700;transform:translateX(-50%) rotate(0deg);transform-origin:50% 0">zaag</div><div class="t" style="left:35.7px;top:150.6px;font-size:3.1px;color:#9cc42a;font-family:'Liberation Serif', serif;font-style:italic;font-weight:700;transform:translateX(-50%) rotate(65deg);transform-origin:50% 0">ja</div><div class="t" style="left:93.1px;top:107.3px;font-size:3.1px;color:#b6cf33;font-family:'Liberation Serif', serif;font-style:italic;font-weight:700;transform:translateX(-50%) rotate(90deg);transform-origin:50% 0">snel</div><div class="t" style="left:114.8px;top:165.1px;font-size:3.1px;color:#f2b400;font-family:'Liberation Serif', serif;font-style:italic;font-weight:700;transform:translateX(-50%) rotate(65deg);transform-origin:50% 0">ja</div><div class="t" style="left:140.2px;top:92.5px;font-size:3.1px;color:#1e5c38;font-family:'Liberation Serif', serif;font-style:italic;font-weight:700;transform:translateX(-50%) rotate(0deg);transform-origin:50% 0">dak</div><div class="t" style="left:143.2px;top:109.1px;font-size:3.1px;color:#e2a300;font-family:'Liberation Serif', serif;font-style:italic;font-weight:700;transform:translateX(-50%) rotate(-90deg);transform-origin:50% 0">dj</div><div class="t" style="left:128.3px;top:148.9px;font-size:3.1px;color:#f2b400;font-family:'Liberation Serif', serif;font-style:italic;font-weight:700;transform:translateX(-50%) rotate(-90deg);transform-origin:50% 0">hard</div><div class="t" style="left:131.4px;top:57.9px;font-size:3.1px;color:#f6c52a;font-family:'Liberation Serif', serif;font-style:italic;font-weight:700;transform:translateX(-50%) rotate(90deg);transform-origin:50% 0">terras</div><div class="t" style="left:168.9px;top:98.1px;font-size:3.1px;color:#f2b400;font-family:'Liberation Serif', serif;font-style:italic;font-weight:700;transform:translateX(-50%) rotate(0deg);transform-origin:50% 0">nee</div><div class="t" style="left:114.9px;top:187.9px;font-size:3.1px;color:#f2b400;font-family:'Liberation Serif', serif;font-style:italic;font-weight:700;transform:translateX(-50%) rotate(90deg);transform-origin:50% 0">parkeren</div><div class="t" style="left:67.6px;top:197.0px;font-size:3.1px;color:#9cc42a;font-family:'Liberation Serif', serif;font-style:italic;font-weight:700;transform:translateX(-50%) rotate(60deg);transform-origin:50% 0">taxi</div><div class="t" style="left:124.6px;top:58.4px;font-size:3.1px;color:#f6c52a;font-family:'Liberation Serif', serif;font-style:italic;font-weight:700;transform:translateX(-50%) rotate(90deg);transform-origin:50% 0">trein</div><div class="t" style="left:83.1px;top:58.2px;font-size:3.1px;color:#9cc42a;font-family:'Liberation Serif', serif;font-style:italic;font-weight:700;transform:translateX(-50%) rotate(0deg);transform-origin:50% 0">dj</div><div class="t" style="left:109.1px;top:45.5px;font-size:3.1px;color:#6fae35;font-family:'Liberation Serif', serif;font-style:italic;font-weight:700;transform:translateX(-50%) rotate(90deg);transform-origin:50% 0">feest</div><div class="t" style="left:42.0px;top:60.6px;font-size:3.1px;color:#f6c52a;font-family:'Liberation Serif', serif;font-style:italic;font-weight:700;transform:translateX(-50%) rotate(-65deg);transform-origin:50% 0">pijl</div><div class="t" style="left:80.2px;top:99.8px;font-size:3.1px;color:#f6c52a;font-family:'Liberation Serif', serif;font-style:italic;font-weight:700;transform:translateX(-50%) rotate(0deg);transform-origin:50% 0">stil</div><div class="t" style="left:135.5px;top:152.5px;font-size:3.1px;color:#f6c52a;font-family:'Liberation Serif', serif;font-style:italic;font-weight:700;transform:translateX(-50%) rotate(0deg);transform-origin:50% 0">kanaal</div><div class="t" style="left:28.0px;top:82.3px;font-size:3.1px;color:#e2a300;font-family:'Liberation Serif', serif;font-style:italic;font-weight:700;transform:translateX(-50%) rotate(0deg);transform-origin:50% 0">wind</div><div class="t" style="left:135.7px;top:188.1px;font-size:3.1px;color:#e2a300;font-family:'Liberation Serif', serif;font-style:italic;font-weight:700;transform:translateX(-50%) rotate(0deg);transform-origin:50% 0">storm</div><div class="t" style="left:78.5px;top:76.1px;font-size:3.1px;color:#9cc42a;font-family:'Liberation Serif', serif;font-style:italic;font-weight:700;transform:translateX(-50%) rotate(0deg);transform-origin:50% 0">pijl</div><div class="t" style="left:76.4px;top:137.6px;font-size:3.1px;color:#2f7a45;font-family:'Liberation Serif', serif;font-style:italic;font-weight:700;transform:translateX(-50%) rotate(0deg);transform-origin:50% 0">snel</div><div class="t" style="left:84.9px;top:112.1px;font-size:3.1px;color:#9cc42a;font-family:'Liberation Serif', serif;font-style:italic;font-weight:700;transform:translateX(-50%) rotate(0deg);transform-origin:50% 0">stil</div><div class="t" style="left:95.3px;top:38.5px;font-size:3.1px;color:#9cc42a;font-family:'Liberation Serif', serif;font-style:italic;font-weight:700;transform:translateX(-50%) rotate(0deg);transform-origin:50% 0">bussen</div><div class="t" style="left:51.8px;top:188.7px;font-size:3.1px;color:#f2b400;font-family:'Liberation Serif', serif;font-style:italic;font-weight:700;transform:translateX(-50%) rotate(-55deg);transform-origin:50% 0">nee</div><div class="t" style="left:178.1px;top:106.4px;font-size:3.1px;color:#f2b400;font-family:'Liberation Serif', serif;font-style:italic;font-weight:700;transform:translateX(-50%) rotate(0deg);transform-origin:50% 0">bas</div><div class="t" style="left:136.0px;top:194.8px;font-size:3.1px;color:#f6c52a;font-family:'Liberation Serif', serif;font-style:italic;font-weight:700;transform:translateX(-50%) rotate(0deg);transform-origin:50% 0">ja</div><div class="t" style="left:55.7px;top:191.4px;font-size:3.1px;color:#b6cf33;font-family:'Liberation Serif', serif;font-style:italic;font-weight:700;transform:translateX(-50%) rotate(0deg);transform-origin:50% 0">stil</div><div class="t" style="left:78.2px;top:45.1px;font-size:3.1px;color:#9cc42a;font-family:'Liberation Serif', serif;font-style:italic;font-weight:700;transform:translateX(-50%) rotate(0deg);transform-origin:50% 0">airco</div><div class="t" style="left:45.9px;top:101.8px;font-size:3.1px;color:#6fae35;font-family:'Liberation Serif', serif;font-style:italic;font-weight:700;transform:translateX(-50%) rotate(0deg);transform-origin:50% 0">nee</div><div class="t" style="left:47.0px;top:154.8px;font-size:3.1px;color:#2f7a45;font-family:'Liberation Serif', serif;font-style:italic;font-weight:700;transform:translateX(-50%) rotate(90deg);transform-origin:50% 0">stil</div><div class="t" style="left:169.9px;top:91.4px;font-size:3.1px;color:#b6cf33;font-family:'Liberation Serif', serif;font-style:italic;font-weight:700;transform:translateX(-50%) rotate(0deg);transform-origin:50% 0">geen</div><div class="t" style="left:118.8px;top:162.5px;font-size:3.1px;color:#f2b400;font-family:'Liberation Serif', serif;font-style:italic;font-weight:700;transform:translateX(-50%) rotate(0deg);transform-origin:50% 0">snel</div><div class="t" style="left:154.7px;top:181.0px;font-size:3.1px;color:#f2b400;font-family:'Liberation Serif', serif;font-style:italic;font-weight:700;transform:translateX(-50%) rotate(-65deg);transform-origin:50% 0">bas</div><div class="t" style="left:165.7px;top:85.5px;font-size:3.1px;color:#b6cf33;font-family:'Liberation Serif', serif;font-style:italic;font-weight:700;transform:translateX(-50%) rotate(0deg);transform-origin:50% 0">ja</div><div class="t" style="left:73.2px;top:186.6px;font-size:3.1px;color:#1e5c38;font-family:'Liberation Serif', serif;font-style:italic;font-weight:700;transform:translateX(-50%) rotate(0deg);transform-origin:50% 0">dj</div><div class="t" style="left:51.4px;top:131.3px;font-size:3.1px;color:#b6cf33;font-family:'Liberation Serif', serif;font-style:italic;font-weight:700;transform:translateX(-50%) rotate(0deg);transform-origin:50% 0">taxi</div><div class="t" style="left:30.8px;top:159.6px;font-size:3.1px;color:#e2a300;font-family:'Liberation Serif', serif;font-style:italic;font-weight:700;transform:translateX(-50%) rotate(0deg);transform-origin:50% 0">ja</div><div class="t" style="left:27.6px;top:106.3px;font-size:3.1px;color:#f6c52a;font-family:'Liberation Serif', serif;font-style:italic;font-weight:700;transform:translateX(-50%) rotate(90deg);transform-origin:50% 0">pijl</div><div class="t" style="left:115.1px;top:62.1px;font-size:3.1px;color:#f2b400;font-family:'Liberation Serif', serif;font-style:italic;font-weight:700;transform:translateX(-50%) rotate(0deg);transform-origin:50% 0">nee</div><div class="t" style="left:93.6px;top:186.2px;font-size:3.1px;color:#b6cf33;font-family:'Liberation Serif', serif;font-style:italic;font-weight:700;transform:translateX(-50%) rotate(90deg);transform-origin:50% 0">storm</div><div class="t" style="left:45.7px;top:117.3px;font-size:3.1px;color:#f2b400;font-family:'Liberation Serif', serif;font-style:italic;font-weight:700;transform:translateX(-50%) rotate(0deg);transform-origin:50% 0">knal</div><div class="t" style="left:145.7px;top:73.2px;font-size:3.1px;color:#f6c52a;font-family:'Liberation Serif', serif;font-style:italic;font-weight:700;transform:translateX(-50%) rotate(0deg);transform-origin:50% 0">ja</div><div class="t" style="left:95.3px;top:203.4px;font-size:3.1px;color:#f6c52a;font-family:'Liberation Serif', serif;font-style:italic;font-weight:700;transform:translateX(-50%) rotate(0deg);transform-origin:50% 0">snel</div><div class="t" style="left:159.1px;top:67.4px;font-size:3.1px;color:#1e5c38;font-family:'Liberation Serif', serif;font-style:italic;font-weight:700;transform:translateX(-50%) rotate(0deg);transform-origin:50% 0">dj</div><div class="t" style="left:82.3px;top:75.1px;font-size:3.1px;color:#b6cf33;font-family:'Liberation Serif', serif;font-style:italic;font-weight:700;transform:translateX(-50%) rotate(0deg);transform-origin:50% 0">ja</div><div class="t" style="left:110.7px;top:190.1px;font-size:3.1px;color:#b6cf33;font-family:'Liberation Serif', serif;font-style:italic;font-weight:700;transform:translateX(-50%) rotate(0deg);transform-origin:50% 0">knal</div><div class="t" style="left:141.8px;top:83.0px;font-size:3.1px;color:#f2b400;font-family:'Liberation Serif', serif;font-style:italic;font-weight:700;transform:translateX(-50%) rotate(0deg);transform-origin:50% 0">pijl</div><div class="t" style="left:69.4px;top:75.7px;font-size:3.1px;color:#f6c52a;font-family:'Liberation Serif', serif;font-style:italic;font-weight:700;transform:translateX(-50%) rotate(0deg);transform-origin:50% 0">stil</div><div class="t" style="left:162.7px;top:172.4px;font-size:3.1px;color:#b6cf33;font-family:'Liberation Serif', serif;font-style:italic;font-weight:700;transform:translateX(-50%) rotate(0deg);transform-origin:50% 0">ja</div><div class="t" style="left:69.3px;top:43.8px;font-size:3.1px;color:#f2b400;font-family:'Liberation Serif', serif;font-style:italic;font-weight:700;transform:translateX(-50%) rotate(0deg);transform-origin:50% 0">ja</div><div class="t" style="left:60.6px;top:148.0px;font-size:2.7px;color:#e2a300;font-family:'Liberation Serif', serif;font-style:italic;font-weight:700;transform:translateX(-50%) rotate(0deg);transform-origin:50% 0">school</div><div class="t" style="left:110.9px;top:179.6px;font-size:2.7px;color:#1e5c38;font-family:'Liberation Serif', serif;font-style:italic;font-weight:700;transform:translateX(-50%) rotate(90deg);transform-origin:50% 0">motor</div><div class="t" style="left:157.8px;top:98.3px;font-size:2.7px;color:#2f7a45;font-family:'Liberation Serif', serif;font-style:italic;font-weight:700;transform:translateX(-50%) rotate(0deg);transform-origin:50% 0">ganzen</div><div class="t" style="left:41.7px;top:169.0px;font-size:2.7px;color:#f6c52a;font-family:'Liberation Serif', serif;font-style:italic;font-weight:700;transform:translateX(-50%) rotate(0deg);transform-origin:50% 0">heien</div><div class="t" style="left:143.0px;top:167.8px;font-size:2.7px;color:#9cc42a;font-family:'Liberation Serif', serif;font-style:italic;font-weight:700;transform:translateX(-50%) rotate(0deg);transform-origin:50% 0">nee</div><div class="t" style="left:56.6px;top:101.9px;font-size:2.7px;color:#9cc42a;font-family:'Liberation Serif', serif;font-style:italic;font-weight:700;transform:translateX(-50%) rotate(0deg);transform-origin:50% 0">zaag</div><div class="t" style="left:113.7px;top:146.5px;font-size:2.7px;color:#2f7a45;font-family:'Liberation Serif', serif;font-style:italic;font-weight:700;transform:translateX(-50%) rotate(0deg);transform-origin:50% 0">heien</div><div class="t" style="left:79.9px;top:190.8px;font-size:2.7px;color:#2f7a45;font-family:'Liberation Serif', serif;font-style:italic;font-weight:700;transform:translateX(-50%) rotate(0deg);transform-origin:50% 0">zaag</div><div class="t" style="left:17.4px;top:118.2px;font-size:2.7px;color:#1e5c38;font-family:'Liberation Serif', serif;font-style:italic;font-weight:700;transform:translateX(-50%) rotate(0deg);transform-origin:50% 0">spoor</div><div class="t" style="left:112.0px;top:44.5px;font-size:2.7px;color:#e2a300;font-family:'Liberation Serif', serif;font-style:italic;font-weight:700;transform:translateX(-50%) rotate(-60deg);transform-origin:50% 0">ja</div><div class="t" style="left:18.1px;top:101.8px;font-size:2.7px;color:#b6cf33;font-family:'Liberation Serif', serif;font-style:italic;font-weight:700;transform:translateX(-50%) rotate(0deg);transform-origin:50% 0">dak</div><div class="t" style="left:36.6px;top:101.9px;font-size:2.7px;color:#e2a300;font-family:'Liberation Serif', serif;font-style:italic;font-weight:700;transform:translateX(-50%) rotate(0deg);transform-origin:50% 0">altijd</div><div class="t" style="left:66.5px;top:49.3px;font-size:2.7px;color:#f2b400;font-family:'Liberation Serif', serif;font-style:italic;font-weight:700;transform:translateX(-50%) rotate(90deg);transform-origin:50% 0">ja</div><div class="t" style="left:51.1px;top:180.7px;font-size:2.7px;color:#2f7a45;font-family:'Liberation Serif', serif;font-style:italic;font-weight:700;transform:translateX(-50%) rotate(0deg);transform-origin:50% 0">jetski</div><div class="t" style="left:121.4px;top:126.3px;font-size:2.7px;color:#e2a300;font-family:'Liberation Serif', serif;font-style:italic;font-weight:700;transform:translateX(-50%) rotate(0deg);transform-origin:50% 0">nacht</div><div class="t" style="left:87.6px;top:120.3px;font-size:2.7px;color:#9cc42a;font-family:'Liberation Serif', serif;font-style:italic;font-weight:700;transform:translateX(-50%) rotate(55deg);transform-origin:50% 0">feest</div><div class="t" style="left:60.6px;top:53.6px;font-size:2.7px;color:#9cc42a;font-family:'Liberation Serif', serif;font-style:italic;font-weight:700;transform:translateX(-50%) rotate(-55deg);transform-origin:50% 0">radio</div><div class="t" style="left:170.9px;top:109.5px;font-size:2.7px;color:#6fae35;font-family:'Liberation Serif', serif;font-style:italic;font-weight:700;transform:translateX(-50%) rotate(0deg);transform-origin:50% 0">ja</div><div class="t" style="left:48.0px;top:169.3px;font-size:2.7px;color:#f6c52a;font-family:'Liberation Serif', serif;font-style:italic;font-weight:700;transform:translateX(-50%) rotate(0deg);transform-origin:50% 0">tuin</div><div class="t" style="left:73.0px;top:114.0px;font-size:2.7px;color:#2f7a45;font-family:'Liberation Serif', serif;font-style:italic;font-weight:700;transform:translateX(-50%) rotate(90deg);transform-origin:50% 0">pijl</div><div class="t" style="left:114.9px;top:152.7px;font-size:2.7px;color:#f6c52a;font-family:'Liberation Serif', serif;font-style:italic;font-weight:700;transform:translateX(-50%) rotate(0deg);transform-origin:50% 0">overlast</div><div class="t" style="left:87.6px;top:191.7px;font-size:2.7px;color:#9cc42a;font-family:'Liberation Serif', serif;font-style:italic;font-weight:700;transform:translateX(-50%) rotate(-90deg);transform-origin:50% 0">vaak</div><div class="t" style="left:64.9px;top:46.4px;font-size:2.7px;color:#f6c52a;font-family:'Liberation Serif', serif;font-style:italic;font-weight:700;transform:translateX(-50%) rotate(0deg);transform-origin:50% 0">tractor</div><div class="t" style="left:32.5px;top:148.2px;font-size:2.7px;color:#e2a300;font-family:'Liberation Serif', serif;font-style:italic;font-weight:700;transform:translateX(-50%) rotate(0deg);transform-origin:50% 0">sluis</div><div class="t" style="left:55.7px;top:172.7px;font-size:2.7px;color:#b6cf33;font-family:'Liberation Serif', serif;font-style:italic;font-weight:700;transform:translateX(-50%) rotate(90deg);transform-origin:50% 0">heli</div><div class="t" style="left:151.7px;top:152.5px;font-size:2.7px;color:#f2b400;font-family:'Liberation Serif', serif;font-style:italic;font-weight:700;transform:translateX(-50%) rotate(0deg);transform-origin:50% 0">cobra</div><div class="t" style="left:153.8px;top:87.1px;font-size:2.7px;color:#1e5c38;font-family:'Liberation Serif', serif;font-style:italic;font-weight:700;transform:translateX(-50%) rotate(60deg);transform-origin:50% 0">nee</div><div class="t" style="left:90.8px;top:49.0px;font-size:2.7px;color:#9cc42a;font-family:'Liberation Serif', serif;font-style:italic;font-weight:700;transform:translateX(-50%) rotate(0deg);transform-origin:50% 0">heipalen</div><div class="t" style="left:156.7px;top:107.8px;font-size:2.7px;color:#9cc42a;font-family:'Liberation Serif', serif;font-style:italic;font-weight:700;transform:translateX(-50%) rotate(90deg);transform-origin:50% 0">ja</div><div class="t" style="left:118.3px;top:172.7px;font-size:2.7px;color:#b6cf33;font-family:'Liberation Serif', serif;font-style:italic;font-weight:700;transform:translateX(-50%) rotate(0deg);transform-origin:50% 0">dj</div><div class="t" style="left:161.5px;top:156.5px;font-size:2.7px;color:#9cc42a;font-family:'Liberation Serif', serif;font-style:italic;font-weight:700;transform:translateX(-50%) rotate(0deg);transform-origin:50% 0">bus</div><div class="t" style="left:121.0px;top:120.4px;font-size:2.7px;color:#f2b400;font-family:'Liberation Serif', serif;font-style:italic;font-weight:700;transform:translateX(-50%) rotate(0deg);transform-origin:50% 0">dj</div><div class="t" style="left:165.1px;top:137.9px;font-size:2.7px;color:#f2b400;font-family:'Liberation Serif', serif;font-style:italic;font-weight:700;transform:translateX(-50%) rotate(-90deg);transform-origin:50% 0">ja</div><div class="t" style="left:34.5px;top:82.6px;font-size:2.7px;color:#e2a300;font-family:'Liberation Serif', serif;font-style:italic;font-weight:700;transform:translateX(-50%) rotate(0deg);transform-origin:50% 0">radio</div><div class="t" style="left:25.3px;top:157.5px;font-size:2.7px;color:#f2b400;font-family:'Liberation Serif', serif;font-style:italic;font-weight:700;transform:translateX(-50%) rotate(0deg);transform-origin:50% 0">bas</div><div class="t" style="left:92.8px;top:197.8px;font-size:2.7px;color:#f2b400;font-family:'Liberation Serif', serif;font-style:italic;font-weight:700;transform:translateX(-50%) rotate(90deg);transform-origin:50% 0">radio</div><div class="t" style="left:102.6px;top:38.7px;font-size:2.7px;color:#1e5c38;font-family:'Liberation Serif', serif;font-style:italic;font-weight:700;transform:translateX(-50%) rotate(0deg);transform-origin:50% 0">sluis</div><div class="t" style="left:105.5px;top:182.7px;font-size:2.7px;color:#6fae35;font-family:'Liberation Serif', serif;font-style:italic;font-weight:700;transform:translateX(-50%) rotate(0deg);transform-origin:50% 0">bootjes</div><div class="t" style="left:41.9px;top:85.4px;font-size:2.7px;color:#f2b400;font-family:'Liberation Serif', serif;font-style:italic;font-weight:700;transform:translateX(-50%) rotate(0deg);transform-origin:50% 0">ja</div><div class="t" style="left:78.4px;top:79.9px;font-size:2.7px;color:#e2a300;font-family:'Liberation Serif', serif;font-style:italic;font-weight:700;transform:translateX(-50%) rotate(0deg);transform-origin:50% 0">bas</div><div class="t" style="left:118.6px;top:193.7px;font-size:2.7px;color:#f2b400;font-family:'Liberation Serif', serif;font-style:italic;font-weight:700;transform:translateX(-50%) rotate(0deg);transform-origin:50% 0">deur</div><div class="t" style="left:15.6px;top:128.1px;font-size:2.7px;color:#b6cf33;font-family:'Liberation Serif', serif;font-style:italic;font-weight:700;transform:translateX(-50%) rotate(90deg);transform-origin:50% 0">kinderen</div><div class="t" style="left:133.8px;top:168.2px;font-size:2.7px;color:#9cc42a;font-family:'Liberation Serif', serif;font-style:italic;font-weight:700;transform:translateX(-50%) rotate(-65deg);transform-origin:50% 0">boor</div><div class="t" style="left:102.4px;top:156.2px;font-size:2.7px;color:#f2b400;font-family:'Liberation Serif', serif;font-style:italic;font-weight:700;transform:translateX(-50%) rotate(-55deg);transform-origin:50% 0">sluis</div><div class="t" style="left:177.6px;top:128.5px;font-size:2.7px;color:#1e5c38;font-family:'Liberation Serif', serif;font-style:italic;font-weight:700;transform:translateX(-50%) rotate(0deg);transform-origin:50% 0">sloop</div><div class="t" style="left:82.6px;top:81.5px;font-size:2.7px;color:#9cc42a;font-family:'Liberation Serif', serif;font-style:italic;font-weight:700;transform:translateX(-50%) rotate(0deg);transform-origin:50% 0">nee</div><div class="t" style="left:145.4px;top:96.7px;font-size:2.7px;color:#f2b400;font-family:'Liberation Serif', serif;font-style:italic;font-weight:700;transform:translateX(-50%) rotate(55deg);transform-origin:50% 0">dak</div><div class="t" style="left:129.4px;top:51.9px;font-size:2.7px;color:#1e5c38;font-family:'Liberation Serif', serif;font-style:italic;font-weight:700;transform:translateX(-50%) rotate(0deg);transform-origin:50% 0">rust</div><div class="t" style="left:124.4px;top:152.4px;font-size:2.7px;color:#b6cf33;font-family:'Liberation Serif', serif;font-style:italic;font-weight:700;transform:translateX(-50%) rotate(0deg);transform-origin:50% 0">airco</div><div class="t" style="left:16.4px;top:105.0px;font-size:2.7px;color:#f2b400;font-family:'Liberation Serif', serif;font-style:italic;font-weight:700;transform:translateX(-50%) rotate(-90deg);transform-origin:50% 0">rust</div><div class="t" style="left:19.6px;top:99.6px;font-size:2.7px;color:#6fae35;font-family:'Liberation Serif', serif;font-style:italic;font-weight:700;transform:translateX(-50%) rotate(0deg);transform-origin:50% 0">pijl</div><div class="t" style="left:94.1px;top:55.7px;font-size:2.7px;color:#6fae35;font-family:'Liberation Serif', serif;font-style:italic;font-weight:700;transform:translateX(-50%) rotate(0deg);transform-origin:50% 0">dj</div><div class="t" style="left:42.3px;top:74.8px;font-size:2.7px;color:#9cc42a;font-family:'Liberation Serif', serif;font-style:italic;font-weight:700;transform:translateX(-50%) rotate(0deg);transform-origin:50% 0">fiets</div><div class="t" style="left:138.6px;top:181.8px;font-size:2.7px;color:#f6c52a;font-family:'Liberation Serif', serif;font-style:italic;font-weight:700;transform:translateX(-50%) rotate(0deg);transform-origin:50% 0">taxi</div><div class="t" style="left:142.5px;top:119.8px;font-size:2.7px;color:#b6cf33;font-family:'Liberation Serif', serif;font-style:italic;font-weight:700;transform:translateX(-50%) rotate(55deg);transform-origin:50% 0">sloop</div><div class="t" style="left:61.0px;top:97.9px;font-size:2.7px;color:#e2a300;font-family:'Liberation Serif', serif;font-style:italic;font-weight:700;transform:translateX(-50%) rotate(90deg);transform-origin:50% 0">fiets</div><div class="t" style="left:51.1px;top:101.9px;font-size:2.7px;color:#f6c52a;font-family:'Liberation Serif', serif;font-style:italic;font-weight:700;transform:translateX(-50%) rotate(0deg);transform-origin:50% 0">sport</div><div class="t" style="left:142.5px;top:68.2px;font-size:2.7px;color:#e2a300;font-family:'Liberation Serif', serif;font-style:italic;font-weight:700;transform:translateX(-50%) rotate(0deg);transform-origin:50% 0">ja</div><div class="t" style="left:57.5px;top:193.7px;font-size:2.7px;color:#f2b400;font-family:'Liberation Serif', serif;font-style:italic;font-weight:700;transform:translateX(-50%) rotate(0deg);transform-origin:50% 0">ja</div><div class="t" style="left:28.9px;top:75.3px;font-size:2.7px;color:#f2b400;font-family:'Liberation Serif', serif;font-style:italic;font-weight:700;transform:translateX(-50%) rotate(-60deg);transform-origin:50% 0">tuin</div><div class="t" style="left:67.8px;top:155.1px;font-size:2.7px;color:#f2b400;font-family:'Liberation Serif', serif;font-style:italic;font-weight:700;transform:translateX(-50%) rotate(0deg);transform-origin:50% 0">haven</div><div class="t" style="left:163.7px;top:164.2px;font-size:2.7px;color:#2f7a45;font-family:'Liberation Serif', serif;font-style:italic;font-weight:700;transform:translateX(-50%) rotate(0deg);transform-origin:50% 0">stil</div><div class="t" style="left:129.2px;top:168.1px;font-size:2.7px;color:#f2b400;font-family:'Liberation Serif', serif;font-style:italic;font-weight:700;transform:translateX(-50%) rotate(0deg);transform-origin:50% 0">party</div><div class="t" style="left:103.7px;top:92.1px;font-size:2.7px;color:#9cc42a;font-family:'Liberation Serif', serif;font-style:italic;font-weight:700;transform:translateX(-50%) rotate(-65deg);transform-origin:50% 0">cobra</div><div class="t" style="left:140.5px;top:107.4px;font-size:2.7px;color:#f2b400;font-family:'Liberation Serif', serif;font-style:italic;font-weight:700;transform:translateX(-50%) rotate(-90deg);transform-origin:50% 0">rust</div><div class="t" style="left:171.9px;top:122.5px;font-size:2.7px;color:#f6c52a;font-family:'Liberation Serif', serif;font-style:italic;font-weight:700;transform:translateX(-50%) rotate(0deg);transform-origin:50% 0">taxi</div><div class="t" style="left:124.4px;top:146.4px;font-size:2.7px;color:#b6cf33;font-family:'Liberation Serif', serif;font-style:italic;font-weight:700;transform:translateX(-50%) rotate(0deg);transform-origin:50% 0">altijd</div><div class="t" style="left:19.3px;top:147.1px;font-size:2.7px;color:#f2b400;font-family:'Liberation Serif', serif;font-style:italic;font-weight:700;transform:translateX(-50%) rotate(90deg);transform-origin:50% 0">fiets</div><div class="t" style="left:168.2px;top:144.0px;font-size:2.7px;color:#1e5c38;font-family:'Liberation Serif', serif;font-style:italic;font-weight:700;transform:translateX(-50%) rotate(90deg);transform-origin:50% 0">airco</div><div class="t" style="left:32.9px;top:69.1px;font-size:2.7px;color:#b6cf33;font-family:'Liberation Serif', serif;font-style:italic;font-weight:700;transform:translateX(-50%) rotate(-55deg);transform-origin:50% 0">stil</div><div class="t" style="left:102.1px;top:159.7px;font-size:2.7px;color:#f2b400;font-family:'Liberation Serif', serif;font-style:italic;font-weight:700;transform:translateX(-50%) rotate(0deg);transform-origin:50% 0">bas</div><div class="t" style="left:37.6px;top:148.9px;font-size:2.7px;color:#f2b400;font-family:'Liberation Serif', serif;font-style:italic;font-weight:700;transform:translateX(-50%) rotate(-65deg);transform-origin:50% 0">dj</div><div class="t" style="left:54.1px;top:133.9px;font-size:2.7px;color:#b6cf33;font-family:'Liberation Serif', serif;font-style:italic;font-weight:700;transform:translateX(-50%) rotate(0deg);transform-origin:50% 0">pijl</div><div class="t" style="left:165.3px;top:115.0px;font-size:2.7px;color:#f2b400;font-family:'Liberation Serif', serif;font-style:italic;font-weight:700;transform:translateX(-50%) rotate(0deg);transform-origin:50% 0">dak</div><div class="t" style="left:137.6px;top:50.3px;font-size:2.7px;color:#e2a300;font-family:'Liberation Serif', serif;font-style:italic;font-weight:700;transform:translateX(-50%) rotate(0deg);transform-origin:50% 0">vaart</div><div class="t tv" style="left:102.3px;top:123.6px;font-size:40px;color:#f2b200;font-family:'Liberation Serif', serif;font-style:italic;font-weight:700;transform:translateX(-50%) rotate(-63deg) scaleX(0.8364);transform-origin:50% 0">vuurwerk</div><div class="t tb" style="left:79.0px;top:68.2px;font-size:15px;color:#8fc31f;font-family:'Liberation Serif', serif;font-style:italic;font-weight:700;transform:translateX(-50%) rotate(0deg) scaleX(1.0569);transform-origin:50% 0">bladblazers</div><div class="t tb" style="left:77.5px;top:109.4px;font-size:12px;color:#1b5b37;font-family:'Liberation Serif', serif;font-style:italic;font-weight:700;transform:translateX(-50%) rotate(70deg) scaleX(0.9998);transform-origin:50% 0">vrachtwagens</div><div class="t tb" style="left:58.7px;top:106.3px;font-size:13px;color:#f2b200;font-family:'Liberation Serif', serif;font-style:italic;font-weight:700;transform:translateX(-50%) rotate(0deg) scaleX(0.9451);transform-origin:50% 0">boten</div><div class="t" style="left:62.6px;top:118.2px;font-size:7px;color:#f2b200;font-family:'Liberation Serif', serif;font-style:italic;font-weight:700;transform:translateX(-50%) rotate(0deg) scaleX(1.1145);transform-origin:50% 0">festivals</div><div class="t tb" style="left:57.3px;top:142.9px;font-size:12px;color:#f2b200;font-family:'Liberation Serif', serif;font-style:italic;font-weight:700;transform:translateX(-50%) rotate(0deg) scaleX(1.091);transform-origin:50% 0">toeterende</div><div class="t tb" style="left:138.0px;top:128.3px;font-size:14px;color:#8fc31f;font-family:'Liberation Serif', serif;font-style:italic;font-weight:700;transform:translateX(-50%) rotate(-13deg) scaleX(1.1356);transform-origin:50% 0">scooters</div><div class="t tb" style="left:137.4px;top:139.1px;font-size:18px;color:#1b5b37;font-family:'Liberation Serif', serif;font-style:italic;font-weight:700;transform:translateX(-50%) rotate(0deg) scaleX(0.962);transform-origin:50% 0">muziek</div><div class="t tb" style="left:132.2px;top:156.9px;font-size:12px;color:#1b5b37;font-family:'Liberation Serif', serif;font-style:italic;font-weight:700;transform:translateX(-50%) rotate(0deg) scaleX(1.0797);transform-origin:50% 0">brommers</div><div class="t tb" style="left:122.8px;top:177.9px;font-size:11px;color:#8fc31f;font-family:'Liberation Serif', serif;font-style:italic;font-weight:700;transform:translateX(-50%) rotate(0deg) scaleX(1.158);transform-origin:50% 0">veel</div><div class="t tb" style="left:97.5px;top:178.5px;font-size:10px;color:#f2b200;font-family:'Liberation Serif', serif;font-style:italic;font-weight:700;transform:translateX(-50%) rotate(0deg) scaleX(1.4667);transform-origin:50% 0">a44</div><div class="t tb" style="left:104.0px;top:81.5px;font-size:11px;color:#8fc31f;font-family:'Liberation Serif', serif;font-style:italic;font-weight:700;transform:translateX(-50%) rotate(0deg) scaleX(0.9067);transform-origin:50% 0">geluid</div><div class="t" style="left:89.8px;top:78.2px;font-size:6.5px;color:#1b5b37;font-family:'Liberation Serif', serif;font-style:italic;font-weight:700;transform:translateX(-50%) rotate(0deg) scaleX(1.0831);transform-origin:50% 0">zomer</div><div class="t" style="left:160.4px;top:85.2px;font-size:7px;color:#1b5b37;font-family:'Liberation Serif', serif;font-style:italic;font-weight:700;transform:translateX(-50%) rotate(0deg) scaleX(0.6924);transform-origin:50% 0">nee</div><div class="t" style="left:72.3px;top:151.7px;font-size:7px;color:#1b5b37;font-family:'Liberation Serif', serif;font-style:italic;font-weight:700;transform:translateX(-50%) rotate(0deg) scaleX(1.0281);transform-origin:50% 0">veiling</div><div class="t" style="left:61.5px;top:158.2px;font-size:7px;color:#1b5b37;font-family:'Liberation Serif', serif;font-style:italic;font-weight:700;transform:translateX(-50%) rotate(0deg) scaleX(1.1145);transform-origin:50% 0">toeteren</div><div class="t" style="left:67.5px;top:165.2px;font-size:5px;color:#1b5b37;font-family:'Liberation Serif', serif;font-style:italic;font-weight:700;transform:translateX(-50%) rotate(0deg) scaleX(1.0096);transform-origin:50% 0">vliegtuigen</div><div class="t" style="left:64.5px;top:130.7px;font-size:6px;color:#8fc31f;font-family:'Liberation Serif', serif;font-style:italic;font-weight:700;transform:translateX(-50%) rotate(0deg) scaleX(1.0167);transform-origin:50% 0">snelweg</div><div class="t" style="left:103.5px;top:185.6px;font-size:8px;color:#f2b200;font-family:'Liberation Serif', serif;font-style:italic;font-weight:700;transform:translateX(-50%) rotate(0deg) scaleX(0.8889);transform-origin:50% 0">boren</div></div></div>
<div class="s" style="left:485px;top:934px"><div class="r" style="left:0;top:0;width:383px;height:216px;box-sizing:border-box;border:2px solid #151515;background:#fff"></div><div class="r" style="left:3.00px;top:3.20px;width:118.00px;height:6.60px;background:#146c38;"></div><div class="r" style="left:133.50px;top:3.20px;width:117.50px;height:6.60px;background:#fcbf0c;"></div><div class="r" style="left:261.50px;top:3.20px;width:117.50px;height:6.60px;background:#146c38;"></div><div class="r" style="left:4.2px;top:205.6px;width:4.8px;height:4.8px;border:0.7px solid #efefef;border-radius:50%"></div><div class="r" style="left:12.5px;top:205.6px;width:4.8px;height:4.8px;border:0.7px solid #efefef;border-radius:50%"></div><div class="r" style="left:20.8px;top:205.6px;width:4.8px;height:4.8px;border:0.7px solid #efefef;border-radius:50%"></div><div class="r" style="left:29.1px;top:205.6px;width:4.8px;height:4.8px;border:0.7px solid #efefef;border-radius:50%"></div><div class="r" style="left:37.4px;top:205.6px;width:4.8px;height:4.8px;border:0.7px solid #efefef;border-radius:50%"></div><div class="r" style="left:45.7px;top:205.6px;width:4.8px;height:4.8px;border:0.7px solid #efefef;border-radius:50%"></div><div class="r" style="left:54.0px;top:205.6px;width:4.8px;height:4.8px;border:0.7px solid #efefef;border-radius:50%"></div><div class="t tq" style="left:194.60px;top:18.55px;font-size:9.8px;color:#2b6646;transform:translateX(-50%) scaleX(1.0307);transform-origin:50% 0;">Wil je aangeven of je geluidsoverlast ervaart van een andere bron van geluid?</div><div class="t tq" style="left:194.60px;top:31.40px;font-size:9.8px;color:#2b6646;transform:translateX(-50%) scaleX(1.0752);transform-origin:50% 0;">Illustratie met citaten</div><div class="t" style="left:352.10px;top:46.44px;font-size:4.2px;color:#444;transform:translateX(-50%) scaleX(1.0596);transform-origin:50% 0;">n=66</div><div class="t tq" style="left:19.60px;top:52.90px;font-size:7.8px;color:#2f4a3c;font-weight:700;">1.</div><div class="t tq" style="left:33.20px;top:52.90px;font-size:7.8px;color:#1f5b37;font-weight:700;transform:scaleX(1.156);transform-origin:0 0;">Vuurwerk (22x)</div><div class="t tq" style="left:19.60px;top:116.60px;font-size:7.8px;color:#2f4a3c;font-weight:700;">2.</div><div class="t tq" style="left:33.20px;top:116.60px;font-size:7.8px;color:#1f5b37;font-weight:700;transform:scaleX(1.1165);transform-origin:0 0;">Brommers/scooters (14x)</div><div class="t tq" style="left:19.90px;top:63.54px;font-size:7.4px;color:#27613c;font-style:italic;transform:scaleX(1.1215);transform-origin:0 0;">“Vuurwerk ook buiten oud en nieuw.”</div><div class="t tq" style="left:19.90px;top:74.09px;font-size:7.4px;color:#27613c;font-style:italic;transform:scaleX(1.0842);transform-origin:0 0;">“Vuurwerk in december en januari.”</div><div class="t tq" style="left:19.90px;top:84.64px;font-size:7.4px;color:#27613c;font-style:italic;transform:scaleX(1.108);transform-origin:0 0;">“Incidenteel maar wel uiterst storend vuurwerk.”</div><div class="t tq" style="left:19.90px;top:95.19px;font-size:7.4px;color:#27613c;font-style:italic;transform:scaleX(1.0826);transform-origin:0 0;">“Afsteken van vuurwerk.”</div><div class="t tq" style="left:19.90px;top:126.74px;font-size:7.4px;color:#27613c;font-style:italic;transform:scaleX(1.0612);transform-origin:0 0;">“Brommers tijdens zomerdag, keihard gas geven qua geluid.”</div><div class="t tq" style="left:19.90px;top:137.34px;font-size:7.4px;color:#27613c;font-style:italic;transform:scaleX(1.1072);transform-origin:0 0;">“Voorbij razende motoren (op A44/N444) die idioot veel (onnodig) lawaai maken.”</div><div class="t tq" style="left:19.90px;top:147.94px;font-size:7.4px;color:#27613c;font-style:italic;transform:scaleX(1.0643);transform-origin:0 0;">“Scooters die zijn opgevoerd.”</div><div class="t tq" style="left:19.90px;top:158.54px;font-size:7.4px;color:#27613c;font-style:italic;transform:scaleX(1.1097);transform-origin:0 0;">“Brommers en scooters die door wijk de Geesten rijden, terwijl dat verboden is.”</div></div>
</body></html>
